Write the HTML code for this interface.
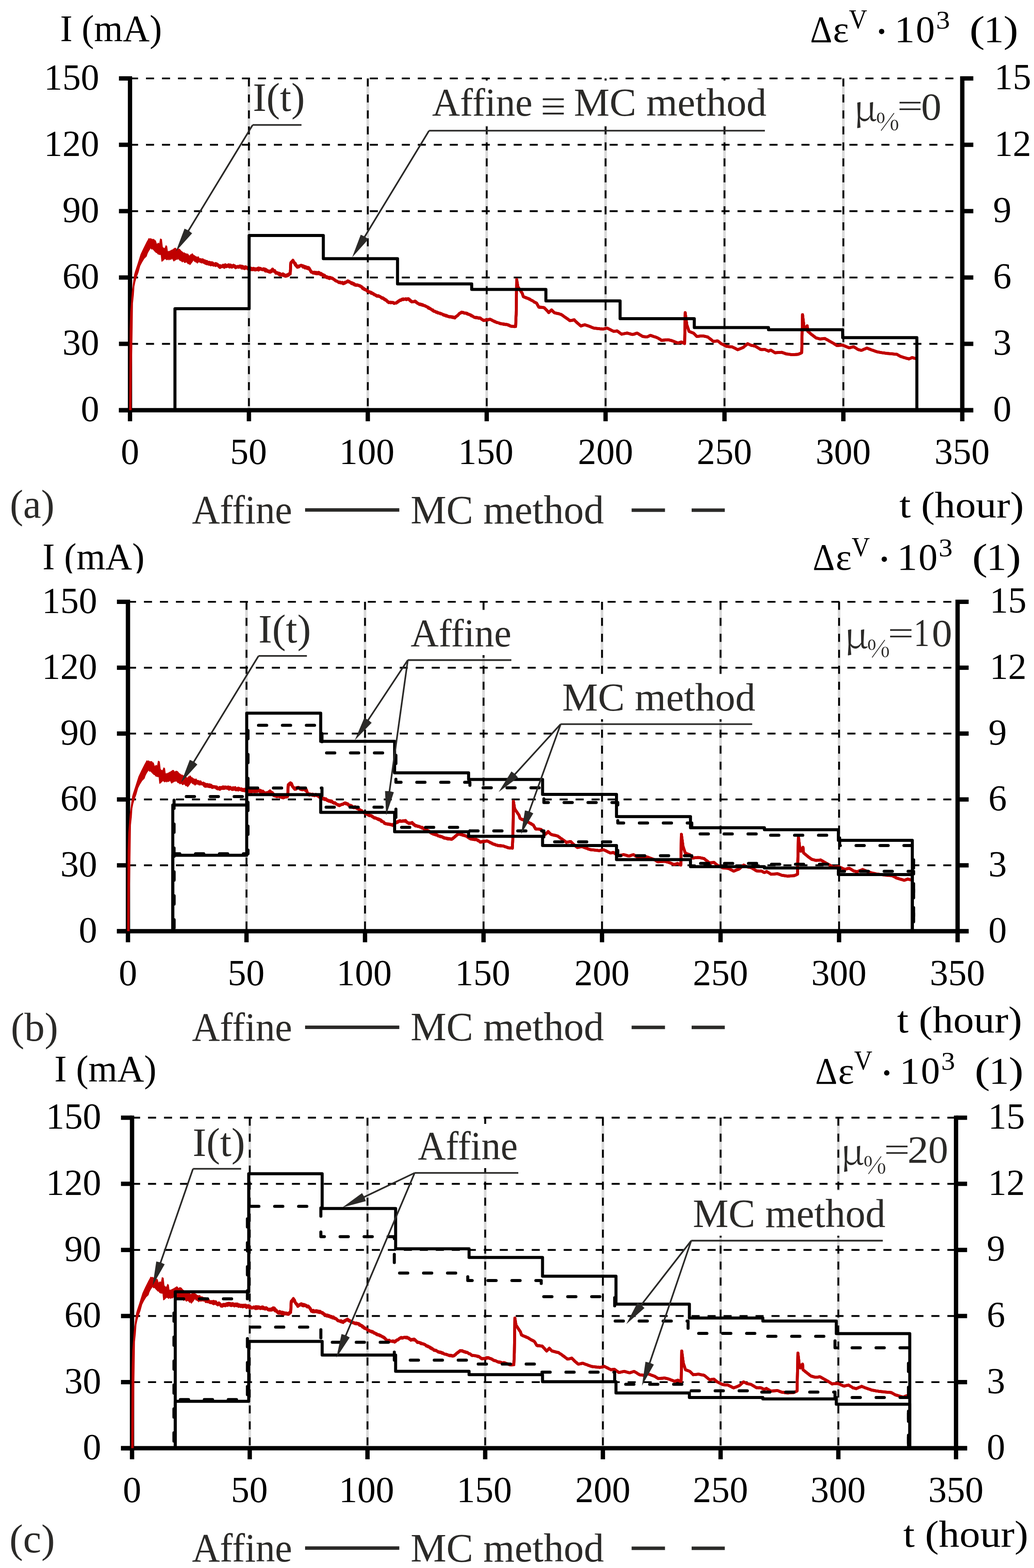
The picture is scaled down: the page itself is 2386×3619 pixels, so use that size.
<!DOCTYPE html>
<html><head><meta charset="utf-8"><style>html,body{margin:0;padding:0;background:#fff}svg{display:block}text{font-kerning:normal}</style></head><body>
<svg width="2386" height="3619" viewBox="0 0 2386 3619">
<rect width="2386" height="3619" fill="#fff"/>
<line x1="574.4" y1="181" x2="574.4" y2="946.8" stroke="#d9d9d9" stroke-width="6" stroke-linecap="butt"/>
<line x1="848.7" y1="181" x2="848.7" y2="946.8" stroke="#d9d9d9" stroke-width="6" stroke-linecap="butt"/>
<line x1="1123.1" y1="181" x2="1123.1" y2="946.8" stroke="#d9d9d9" stroke-width="6" stroke-linecap="butt"/>
<line x1="1397.4" y1="181" x2="1397.4" y2="946.8" stroke="#d9d9d9" stroke-width="6" stroke-linecap="butt"/>
<line x1="1671.8" y1="181" x2="1671.8" y2="946.8" stroke="#d9d9d9" stroke-width="6" stroke-linecap="butt"/>
<line x1="1946.1" y1="181" x2="1946.1" y2="946.8" stroke="#d9d9d9" stroke-width="6" stroke-linecap="butt"/>
<line x1="574.4" y1="181" x2="574.4" y2="946.8" stroke="#000" stroke-width="4.2" stroke-linecap="butt" stroke-dasharray="18.6 18.29"/>
<line x1="848.7" y1="181" x2="848.7" y2="946.8" stroke="#000" stroke-width="4.2" stroke-linecap="butt" stroke-dasharray="18.6 18.29"/>
<line x1="1123.1" y1="181" x2="1123.1" y2="946.8" stroke="#000" stroke-width="4.2" stroke-linecap="butt" stroke-dasharray="18.6 18.29"/>
<line x1="1397.4" y1="181" x2="1397.4" y2="946.8" stroke="#000" stroke-width="4.2" stroke-linecap="butt" stroke-dasharray="18.6 18.29"/>
<line x1="1671.8" y1="181" x2="1671.8" y2="946.8" stroke="#000" stroke-width="4.2" stroke-linecap="butt" stroke-dasharray="18.6 18.29"/>
<line x1="1946.1" y1="181" x2="1946.1" y2="946.8" stroke="#000" stroke-width="4.2" stroke-linecap="butt" stroke-dasharray="18.6 18.29"/>
<line x1="300" y1="793.6" x2="2220.5" y2="793.6" stroke="#000" stroke-width="4.2" stroke-linecap="butt" stroke-dasharray="18.6 18.29"/>
<line x1="300" y1="640.5" x2="2220.5" y2="640.5" stroke="#000" stroke-width="4.2" stroke-linecap="butt" stroke-dasharray="18.6 18.29"/>
<line x1="300" y1="487.3" x2="2220.5" y2="487.3" stroke="#000" stroke-width="4.2" stroke-linecap="butt" stroke-dasharray="18.6 18.29"/>
<line x1="300" y1="334.2" x2="2220.5" y2="334.2" stroke="#000" stroke-width="4.2" stroke-linecap="butt" stroke-dasharray="18.6 18.29"/>
<line x1="300" y1="181" x2="2220.5" y2="181" stroke="#000" stroke-width="4.2" stroke-linecap="butt" stroke-dasharray="18.6 18.29"/>
<line x1="568.8" y1="1389" x2="568.8" y2="2149.3" stroke="#d9d9d9" stroke-width="6" stroke-linecap="butt"/>
<line x1="842.3" y1="1389" x2="842.3" y2="2149.3" stroke="#d9d9d9" stroke-width="6" stroke-linecap="butt"/>
<line x1="1115.8" y1="1389" x2="1115.8" y2="2149.3" stroke="#d9d9d9" stroke-width="6" stroke-linecap="butt"/>
<line x1="1389.2" y1="1389" x2="1389.2" y2="2149.3" stroke="#d9d9d9" stroke-width="6" stroke-linecap="butt"/>
<line x1="1662.7" y1="1389" x2="1662.7" y2="2149.3" stroke="#d9d9d9" stroke-width="6" stroke-linecap="butt"/>
<line x1="1936.2" y1="1389" x2="1936.2" y2="2149.3" stroke="#d9d9d9" stroke-width="6" stroke-linecap="butt"/>
<line x1="568.8" y1="1389" x2="568.8" y2="2149.3" stroke="#000" stroke-width="4.2" stroke-linecap="butt" stroke-dasharray="18.6 18.29"/>
<line x1="842.3" y1="1389" x2="842.3" y2="2149.3" stroke="#000" stroke-width="4.2" stroke-linecap="butt" stroke-dasharray="18.6 18.29"/>
<line x1="1115.8" y1="1389" x2="1115.8" y2="2149.3" stroke="#000" stroke-width="4.2" stroke-linecap="butt" stroke-dasharray="18.6 18.29"/>
<line x1="1389.2" y1="1389" x2="1389.2" y2="2149.3" stroke="#000" stroke-width="4.2" stroke-linecap="butt" stroke-dasharray="18.6 18.29"/>
<line x1="1662.7" y1="1389" x2="1662.7" y2="2149.3" stroke="#000" stroke-width="4.2" stroke-linecap="butt" stroke-dasharray="18.6 18.29"/>
<line x1="1936.2" y1="1389" x2="1936.2" y2="2149.3" stroke="#000" stroke-width="4.2" stroke-linecap="butt" stroke-dasharray="18.6 18.29"/>
<line x1="295.3" y1="1997.2" x2="2209.7" y2="1997.2" stroke="#000" stroke-width="4.2" stroke-linecap="butt" stroke-dasharray="18.6 18.29"/>
<line x1="295.3" y1="1845.2" x2="2209.7" y2="1845.2" stroke="#000" stroke-width="4.2" stroke-linecap="butt" stroke-dasharray="18.6 18.29"/>
<line x1="295.3" y1="1693.1" x2="2209.7" y2="1693.1" stroke="#000" stroke-width="4.2" stroke-linecap="butt" stroke-dasharray="18.6 18.29"/>
<line x1="295.3" y1="1541.1" x2="2209.7" y2="1541.1" stroke="#000" stroke-width="4.2" stroke-linecap="butt" stroke-dasharray="18.6 18.29"/>
<line x1="295.3" y1="1389" x2="2209.7" y2="1389" stroke="#000" stroke-width="4.2" stroke-linecap="butt" stroke-dasharray="18.6 18.29"/>
<line x1="576.3" y1="2579.7" x2="576.3" y2="3342.6" stroke="#d9d9d9" stroke-width="6" stroke-linecap="butt"/>
<line x1="848" y1="2579.7" x2="848" y2="3342.6" stroke="#d9d9d9" stroke-width="6" stroke-linecap="butt"/>
<line x1="1119.6" y1="2579.7" x2="1119.6" y2="3342.6" stroke="#d9d9d9" stroke-width="6" stroke-linecap="butt"/>
<line x1="1391.2" y1="2579.7" x2="1391.2" y2="3342.6" stroke="#d9d9d9" stroke-width="6" stroke-linecap="butt"/>
<line x1="1662.8" y1="2579.7" x2="1662.8" y2="3342.6" stroke="#d9d9d9" stroke-width="6" stroke-linecap="butt"/>
<line x1="1934.5" y1="2579.7" x2="1934.5" y2="3342.6" stroke="#d9d9d9" stroke-width="6" stroke-linecap="butt"/>
<line x1="576.3" y1="2579.7" x2="576.3" y2="3342.6" stroke="#000" stroke-width="4.2" stroke-linecap="butt" stroke-dasharray="18.6 18.29"/>
<line x1="848" y1="2579.7" x2="848" y2="3342.6" stroke="#000" stroke-width="4.2" stroke-linecap="butt" stroke-dasharray="18.6 18.29"/>
<line x1="1119.6" y1="2579.7" x2="1119.6" y2="3342.6" stroke="#000" stroke-width="4.2" stroke-linecap="butt" stroke-dasharray="18.6 18.29"/>
<line x1="1391.2" y1="2579.7" x2="1391.2" y2="3342.6" stroke="#000" stroke-width="4.2" stroke-linecap="butt" stroke-dasharray="18.6 18.29"/>
<line x1="1662.8" y1="2579.7" x2="1662.8" y2="3342.6" stroke="#000" stroke-width="4.2" stroke-linecap="butt" stroke-dasharray="18.6 18.29"/>
<line x1="1934.5" y1="2579.7" x2="1934.5" y2="3342.6" stroke="#000" stroke-width="4.2" stroke-linecap="butt" stroke-dasharray="18.6 18.29"/>
<line x1="304.7" y1="3190" x2="2206.1" y2="3190" stroke="#000" stroke-width="4.2" stroke-linecap="butt" stroke-dasharray="18.6 18.29"/>
<line x1="304.7" y1="3037.4" x2="2206.1" y2="3037.4" stroke="#000" stroke-width="4.2" stroke-linecap="butt" stroke-dasharray="18.6 18.29"/>
<line x1="304.7" y1="2884.9" x2="2206.1" y2="2884.9" stroke="#000" stroke-width="4.2" stroke-linecap="butt" stroke-dasharray="18.6 18.29"/>
<line x1="304.7" y1="2732.3" x2="2206.1" y2="2732.3" stroke="#000" stroke-width="4.2" stroke-linecap="butt" stroke-dasharray="18.6 18.29"/>
<line x1="304.7" y1="2579.7" x2="2206.1" y2="2579.7" stroke="#000" stroke-width="4.2" stroke-linecap="butt" stroke-dasharray="18.6 18.29"/>
<rect x="985" y="186" width="790" height="104" fill="#fff"/>
<rect x="935" y="1408" width="250" height="104" fill="#fff"/>
<rect x="1290" y="1556" width="458" height="104" fill="#fff"/>
<rect x="950" y="2594" width="250" height="102" fill="#fff"/>
<rect x="1590" y="2748" width="458" height="104" fill="#fff"/>
<line x1="300" y1="176" x2="300" y2="951.8" stroke="#000" stroke-width="10" stroke-linecap="butt"/>
<line x1="2220.5" y1="176" x2="2220.5" y2="951.8" stroke="#000" stroke-width="10" stroke-linecap="butt"/>
<line x1="274.5" y1="946.8" x2="2246" y2="946.8" stroke="#000" stroke-width="10" stroke-linecap="butt"/>
<line x1="274.5" y1="946.8" x2="300" y2="946.8" stroke="#000" stroke-width="10" stroke-linecap="butt"/>
<line x1="2220.5" y1="946.8" x2="2246" y2="946.8" stroke="#000" stroke-width="10" stroke-linecap="butt"/>
<line x1="274.5" y1="793.6" x2="300" y2="793.6" stroke="#000" stroke-width="10" stroke-linecap="butt"/>
<line x1="2220.5" y1="793.6" x2="2246" y2="793.6" stroke="#000" stroke-width="10" stroke-linecap="butt"/>
<line x1="274.5" y1="640.5" x2="300" y2="640.5" stroke="#000" stroke-width="10" stroke-linecap="butt"/>
<line x1="2220.5" y1="640.5" x2="2246" y2="640.5" stroke="#000" stroke-width="10" stroke-linecap="butt"/>
<line x1="274.5" y1="487.3" x2="300" y2="487.3" stroke="#000" stroke-width="10" stroke-linecap="butt"/>
<line x1="2220.5" y1="487.3" x2="2246" y2="487.3" stroke="#000" stroke-width="10" stroke-linecap="butt"/>
<line x1="274.5" y1="334.2" x2="300" y2="334.2" stroke="#000" stroke-width="10" stroke-linecap="butt"/>
<line x1="2220.5" y1="334.2" x2="2246" y2="334.2" stroke="#000" stroke-width="10" stroke-linecap="butt"/>
<line x1="274.5" y1="181" x2="300" y2="181" stroke="#000" stroke-width="10" stroke-linecap="butt"/>
<line x1="2220.5" y1="181" x2="2246" y2="181" stroke="#000" stroke-width="10" stroke-linecap="butt"/>
<line x1="300" y1="946.8" x2="300" y2="972.3" stroke="#000" stroke-width="10" stroke-linecap="butt"/>
<line x1="574.4" y1="946.8" x2="574.4" y2="972.3" stroke="#000" stroke-width="10" stroke-linecap="butt"/>
<line x1="848.7" y1="946.8" x2="848.7" y2="972.3" stroke="#000" stroke-width="10" stroke-linecap="butt"/>
<line x1="1123.1" y1="946.8" x2="1123.1" y2="972.3" stroke="#000" stroke-width="10" stroke-linecap="butt"/>
<line x1="1397.4" y1="946.8" x2="1397.4" y2="972.3" stroke="#000" stroke-width="10" stroke-linecap="butt"/>
<line x1="1671.8" y1="946.8" x2="1671.8" y2="972.3" stroke="#000" stroke-width="10" stroke-linecap="butt"/>
<line x1="1946.1" y1="946.8" x2="1946.1" y2="972.3" stroke="#000" stroke-width="10" stroke-linecap="butt"/>
<line x1="2220.5" y1="946.8" x2="2220.5" y2="972.3" stroke="#000" stroke-width="10" stroke-linecap="butt"/>
<line x1="295.3" y1="1384" x2="295.3" y2="2154.3" stroke="#000" stroke-width="10" stroke-linecap="butt"/>
<line x1="2209.7" y1="1384" x2="2209.7" y2="2154.3" stroke="#000" stroke-width="10" stroke-linecap="butt"/>
<line x1="269.8" y1="2149.3" x2="2235.2" y2="2149.3" stroke="#000" stroke-width="10" stroke-linecap="butt"/>
<line x1="269.8" y1="2149.3" x2="295.3" y2="2149.3" stroke="#000" stroke-width="10" stroke-linecap="butt"/>
<line x1="2209.7" y1="2149.3" x2="2235.2" y2="2149.3" stroke="#000" stroke-width="10" stroke-linecap="butt"/>
<line x1="269.8" y1="1997.2" x2="295.3" y2="1997.2" stroke="#000" stroke-width="10" stroke-linecap="butt"/>
<line x1="2209.7" y1="1997.2" x2="2235.2" y2="1997.2" stroke="#000" stroke-width="10" stroke-linecap="butt"/>
<line x1="269.8" y1="1845.2" x2="295.3" y2="1845.2" stroke="#000" stroke-width="10" stroke-linecap="butt"/>
<line x1="2209.7" y1="1845.2" x2="2235.2" y2="1845.2" stroke="#000" stroke-width="10" stroke-linecap="butt"/>
<line x1="269.8" y1="1693.1" x2="295.3" y2="1693.1" stroke="#000" stroke-width="10" stroke-linecap="butt"/>
<line x1="2209.7" y1="1693.1" x2="2235.2" y2="1693.1" stroke="#000" stroke-width="10" stroke-linecap="butt"/>
<line x1="269.8" y1="1541.1" x2="295.3" y2="1541.1" stroke="#000" stroke-width="10" stroke-linecap="butt"/>
<line x1="2209.7" y1="1541.1" x2="2235.2" y2="1541.1" stroke="#000" stroke-width="10" stroke-linecap="butt"/>
<line x1="269.8" y1="1389" x2="295.3" y2="1389" stroke="#000" stroke-width="10" stroke-linecap="butt"/>
<line x1="2209.7" y1="1389" x2="2235.2" y2="1389" stroke="#000" stroke-width="10" stroke-linecap="butt"/>
<line x1="295.3" y1="2149.3" x2="295.3" y2="2174.8" stroke="#000" stroke-width="10" stroke-linecap="butt"/>
<line x1="568.8" y1="2149.3" x2="568.8" y2="2174.8" stroke="#000" stroke-width="10" stroke-linecap="butt"/>
<line x1="842.3" y1="2149.3" x2="842.3" y2="2174.8" stroke="#000" stroke-width="10" stroke-linecap="butt"/>
<line x1="1115.8" y1="2149.3" x2="1115.8" y2="2174.8" stroke="#000" stroke-width="10" stroke-linecap="butt"/>
<line x1="1389.2" y1="2149.3" x2="1389.2" y2="2174.8" stroke="#000" stroke-width="10" stroke-linecap="butt"/>
<line x1="1662.7" y1="2149.3" x2="1662.7" y2="2174.8" stroke="#000" stroke-width="10" stroke-linecap="butt"/>
<line x1="1936.2" y1="2149.3" x2="1936.2" y2="2174.8" stroke="#000" stroke-width="10" stroke-linecap="butt"/>
<line x1="2209.7" y1="2149.3" x2="2209.7" y2="2174.8" stroke="#000" stroke-width="10" stroke-linecap="butt"/>
<line x1="304.7" y1="2574.7" x2="304.7" y2="3347.6" stroke="#000" stroke-width="10" stroke-linecap="butt"/>
<line x1="2206.1" y1="2574.7" x2="2206.1" y2="3347.6" stroke="#000" stroke-width="10" stroke-linecap="butt"/>
<line x1="279.2" y1="3342.6" x2="2231.6" y2="3342.6" stroke="#000" stroke-width="10" stroke-linecap="butt"/>
<line x1="279.2" y1="3342.6" x2="304.7" y2="3342.6" stroke="#000" stroke-width="10" stroke-linecap="butt"/>
<line x1="2206.1" y1="3342.6" x2="2231.6" y2="3342.6" stroke="#000" stroke-width="10" stroke-linecap="butt"/>
<line x1="279.2" y1="3190" x2="304.7" y2="3190" stroke="#000" stroke-width="10" stroke-linecap="butt"/>
<line x1="2206.1" y1="3190" x2="2231.6" y2="3190" stroke="#000" stroke-width="10" stroke-linecap="butt"/>
<line x1="279.2" y1="3037.4" x2="304.7" y2="3037.4" stroke="#000" stroke-width="10" stroke-linecap="butt"/>
<line x1="2206.1" y1="3037.4" x2="2231.6" y2="3037.4" stroke="#000" stroke-width="10" stroke-linecap="butt"/>
<line x1="279.2" y1="2884.9" x2="304.7" y2="2884.9" stroke="#000" stroke-width="10" stroke-linecap="butt"/>
<line x1="2206.1" y1="2884.9" x2="2231.6" y2="2884.9" stroke="#000" stroke-width="10" stroke-linecap="butt"/>
<line x1="279.2" y1="2732.3" x2="304.7" y2="2732.3" stroke="#000" stroke-width="10" stroke-linecap="butt"/>
<line x1="2206.1" y1="2732.3" x2="2231.6" y2="2732.3" stroke="#000" stroke-width="10" stroke-linecap="butt"/>
<line x1="279.2" y1="2579.7" x2="304.7" y2="2579.7" stroke="#000" stroke-width="10" stroke-linecap="butt"/>
<line x1="2206.1" y1="2579.7" x2="2231.6" y2="2579.7" stroke="#000" stroke-width="10" stroke-linecap="butt"/>
<line x1="304.7" y1="3342.6" x2="304.7" y2="3368.1" stroke="#000" stroke-width="10" stroke-linecap="butt"/>
<line x1="576.3" y1="3342.6" x2="576.3" y2="3368.1" stroke="#000" stroke-width="10" stroke-linecap="butt"/>
<line x1="848" y1="3342.6" x2="848" y2="3368.1" stroke="#000" stroke-width="10" stroke-linecap="butt"/>
<line x1="1119.6" y1="3342.6" x2="1119.6" y2="3368.1" stroke="#000" stroke-width="10" stroke-linecap="butt"/>
<line x1="1391.2" y1="3342.6" x2="1391.2" y2="3368.1" stroke="#000" stroke-width="10" stroke-linecap="butt"/>
<line x1="1662.8" y1="3342.6" x2="1662.8" y2="3368.1" stroke="#000" stroke-width="10" stroke-linecap="butt"/>
<line x1="1934.5" y1="3342.6" x2="1934.5" y2="3368.1" stroke="#000" stroke-width="10" stroke-linecap="butt"/>
<line x1="2206.1" y1="3342.6" x2="2206.1" y2="3368.1" stroke="#000" stroke-width="10" stroke-linecap="butt"/>
<g>
<polygon points="298,946.8 298.5,850 299.2,760 300.5,720 302.1,700 304.1,674.5 306.8,654.3 309.5,634.1 311.5,626.8 313.5,620.7 316.9,610.6 319.6,601.9 324.3,587.1 330.3,574.3 338.4,558.1 340.8,554.1 343.1,549.3 345.1,550.4 347.2,549.9 348.9,550.1 350.5,551.8 352.2,551.4 353.9,551.5 355.7,551.7 357.5,554.4 359.3,554.4 362.3,563.2 364,560.5 365.7,560.4 367.4,561.8 369.5,550.4 371.6,550.9 373.6,552.3 375.6,569.8 377.6,571.7 379.7,572.7 382.8,565.4 385.8,568.4 387.3,579.7 389,579.3 390.8,579.6 392.5,578 394.3,577.8 396,576.3 397.8,576 399.6,574.3 401.4,573.5 403.2,571.7 406.2,572.3 408.3,575.9 410.3,573.7 412.4,573.7 414.4,574.2 416.2,575.9 417.9,578.3 419.7,579.8 421.5,580.9 423.6,583 425.6,582.2 427.7,584.7 429.4,584 431.1,586.1 432.8,585.1 434.5,586.1 436.2,589.3 437.9,589.4 439.7,586.4 441.4,586.8 443.2,584.4 445,585.2 447,588.4 449.1,589 451.1,590.8 453.1,592 455,592.3 456.7,592.4 458.3,591.3 460,595 460,604 458.3,605.6 456.7,607.3 455,608.8 453.4,606.1 451.8,606.4 450.2,604 448.6,605.1 447,601.3 445,603.6 443,606.6 441.3,608.5 439.6,610.7 437.9,612.3 436.1,609 434.3,610.2 432.5,608.5 430.7,605.9 429,605.7 427.3,607.1 425.6,607 423.9,604.4 422.2,604.2 420.5,605.9 418.7,603.8 416.8,602.3 415,602.5 413.1,599.7 411.3,598.2 409.3,599.6 407.2,599.2 405.2,600.9 403.1,601.8 401.1,604 399.1,600.8 397,597.1 395,599.7 393,599.5 391.4,599.2 389.7,601.5 388.1,598.7 386.4,600.2 384.8,600.8 382.8,599 380.7,598.1 378.7,599.8 376.6,602.1 374.6,603.6 372.6,604.1 371,588.8 369.1,588.3 367.3,588.5 365.4,587.2 363.7,587.1 362,583.9 360.3,584 357.2,580.9 355.5,579.3 353.9,577.3 351.9,575.3 349.8,576.3 347.8,573.2 345.5,576.7 343.1,580.4 340.8,585.1 338.4,592.1 333,597.2 327.7,605.9 323.6,614 319.6,628.8 315.6,639.5 312.2,651 310.2,661 308.8,681.2 306.8,700 306,758 304.5,850 303.7,946.8 298,946.8" fill="#c00000"/>
<polyline points="458,600 460.4,599.4 462.8,598.9 465.2,602.8 467.6,599.6 470,603 472.3,604.2 474.5,604.1 476.8,603.2 479,607 481.3,608 483.6,605.4 485.9,608.2 488.1,606.3 490.4,606.8 492.7,609.2 495,610 497.5,613 500,609.6 502.5,611.1 505,614.6 507.5,617.5 510,615.7 512.5,615.7 515,614.2 517.5,617.2 520,611.2 522.5,615.6 525,613 527.3,612 529.6,611.5 531.9,611.6 534.1,613 536.4,616.3 538.7,614.7 541.1,613.1 543.4,615.7 545.8,616.3 548.2,615 550.5,616.3 552.9,613.7 555.3,614 557.6,615.1 560,617 562.3,618.4 564.6,617.4 566.9,617.1 569.2,619 571.5,618.6 573.8,618.2 576.1,621.3 578.4,621.1 580.7,619 583,620.8 585.3,621.2 587.5,620.9 589.8,622.8 592.1,622 594.3,619.7 596.6,623.3 598.9,618.8 601.1,620.4 603.4,620.8 605.7,622.8 607.9,620.4 610.2,622.8 612.5,621.2 614.7,625.2 617,626.4 619.3,626.1 621.5,628.3 623.8,627.1 626.3,623.6 628.9,622 631.4,625.2 634,627 636.5,629.1 639,631 641.3,631.3 643.6,633.7 645.9,634.7 648.2,632.9 650.5,634.3 652.8,631.9 655.1,635.5 657.4,635.7 659.7,637.8 662,636 664.6,636.2 667.1,632.5 669.7,632.2 671,608 673.5,604.3 676,601.6 678.6,606.2 681.1,607.1 683.7,613 686.3,617 689.5,613.6 692.7,613.1 695,612.1 697.2,612.6 699.5,616.4 701.7,614.3 704,615.6 706.2,616.9 708.5,619.7 710.7,617 713,619.5 715.6,623.7 718.2,628.4 720.5,628.9 722.7,630.6 725,630.6 727.3,631.1 729.5,628.9 731.8,629.8 734.1,629.9 736.3,632.3 738.6,631 741.1,634.3 743.7,632.7 746.2,634.3 748.8,636 751.3,638.6 753.6,638.3 755.8,640 758.1,641.1 760.4,640.5 762.6,640.3 764.9,642.6 767.2,643.1 769.4,644.5 771.7,645 774.3,648.3 776.9,648.9 779.4,649.9 782,651.4 784.5,652.5 787,653.3 789.5,651.8 792,654 794.6,654.1 797.1,652.4 799.7,651.4 802.3,648.8 804.5,650.9 806.8,650.7 809,651.8 811.2,652 813.5,654.9 815.7,654.1 818,655.3 820.2,657.8 822.8,657.3 825.3,657.5 827.9,659 830.1,659.9 832.4,660.5 834.6,661.7 836.8,663.7 839,665 841.2,667.2 843.5,667.6 845.7,670.5 848,672.8 850.2,673.1 852.5,672.9 854.7,674.3 857,675.7 859.2,676.9 861.5,677.3 863.7,680.6 866,680.7 868.2,683.1 870.5,682.5 872.8,683.5 875,683.4 877.2,684.4 879.5,686 881.8,686.8 884,688.4 886.5,691.1 889.1,691 891.6,692.4 894.2,696.8 896.7,697.3 899.2,697.8 901.8,697.2 904.4,698.7 906.9,697.7 909.5,699.5 912,699.8 914.5,699.6 917.1,697.8 919.6,695.9 922.2,693.2 924.8,692 927.3,690.9 929.5,690 931.7,691.5 933.9,690.8 936.1,691.3 938.3,690.1 940.5,689.8 942.7,690.4 945.1,693.1 947.6,695.4 950,696.1 952.6,696.6 955.1,696 957.7,694.8 960.2,697.7 962.8,699.7 965.3,701.2 967.9,701.3 970.4,702.8 973,703.1 975.5,703.1 978.1,705 980.6,705.2 983.2,707 985.8,708.3 988.3,710.6 990.9,712.5 993.4,712.7 996,714.2 998.5,716.9 1001,718.6 1003.6,719 1006.1,721 1008.7,720.6 1011.2,721.3 1013.8,722.9 1016.1,723.1 1018.3,723.9 1020.6,724.8 1022.9,726.6 1025.1,728 1027.4,728.7 1029.7,728.8 1031.9,730 1034.2,730.5 1036.8,731.6 1039.3,730.5 1041.8,732.1 1044.4,733.1 1046.9,733.3 1049.5,733.1 1052,731.5 1054.6,728.8 1057.1,726.7 1059.7,723.9 1062.2,723 1064.8,720.3 1067,720.6 1069.3,722.2 1071.5,723.1 1073.8,722.6 1076,723.3 1078.2,725 1080.5,725.2 1082.7,725.4 1085.2,726.4 1087.8,727.9 1090.3,729.5 1092.9,731.8 1095.5,733 1098,733.2 1100.5,732.4 1103.1,734.1 1105.7,734.8 1108.2,734.3 1110.7,736.3 1113.3,737.4 1115.8,739.4 1118.3,739.1 1120.9,737.9 1123.4,737.3 1126,738.6 1128.5,737.6 1131.1,736.9 1133.7,738.2 1136.2,740.2 1138.8,740.6 1141.3,742.6 1143.9,743.3 1146.5,744.8 1149,744.7 1151.5,745.7 1154.1,747.1 1156.6,747.1 1159.2,747.3 1161.8,748.1 1164.3,747.9 1166.9,748.5 1169.4,748.9 1172,749.4 1174.5,751.6 1177,751.8 1179.6,753 1182.1,753.1 1184.7,753.4 1187.2,754 1189.8,753.5 1191.1,725.4 1192.3,645 1194.9,661.6 1197.5,665.3 1200,669.9 1202.5,673.2 1205.1,677 1207.6,684.6 1209.8,685.6 1212,686.5 1214.2,686.7 1216.4,688.2 1218.6,688.7 1220.8,689.4 1223,691 1225.5,692.9 1228.1,693.5 1230.7,695.4 1233.2,697.2 1235.8,698.5 1238.3,699.9 1240.8,704.1 1243.4,708.8 1245.9,709.1 1248.5,709.4 1251,709.9 1253.6,709.4 1256.1,710.1 1258.6,713 1261.2,715.5 1263.8,718.5 1266.3,721.6 1269.5,718.7 1272.7,715.2 1275.9,718.4 1279.1,721.6 1281.6,722.3 1284.2,723.2 1286.8,724 1289.3,724.1 1291.9,724.9 1294.4,725.4 1296.9,727.2 1299.5,729 1302,730.9 1304.6,732.5 1307.1,734.3 1309.7,736.3 1312.2,738.2 1314.8,740.2 1317.3,740.1 1319.9,739.4 1322.4,739.1 1325,738.2 1327.6,741.2 1330.1,743 1332.7,745.8 1335.2,748 1337.8,750.5 1340.3,752.2 1342.8,751.9 1345.2,750.6 1347.7,750 1350.2,749.7 1352.7,750.6 1355.3,751.2 1357.8,752.3 1360.4,753.5 1363,754.1 1365.5,755.5 1368,756.6 1370.6,757.3 1372.9,757.8 1375.1,757.5 1377.4,758.2 1379.7,758.4 1381.9,758.2 1384.2,759 1386.5,759.3 1388.7,759 1391,759.4 1393.5,759.2 1396.1,758.3 1398.7,757.8 1401.2,757.3 1403.8,758.9 1406.3,760.1 1408.8,760.9 1411.4,762.4 1414,763.7 1416.5,765 1419.1,764.5 1421.6,763.9 1424.2,763.7 1426.8,765.5 1429.3,767.7 1431.8,769.1 1434.4,771.4 1436.9,770.9 1439.5,770.3 1442,769.5 1444.6,769.2 1447.1,768.8 1449.7,769.5 1452.2,770.1 1454.8,770.5 1457.3,771.8 1459.9,772.1 1462.5,771.5 1465,770.8 1467.5,769.4 1470.1,768.8 1472.7,770.2 1475.2,771.6 1477.8,773.6 1480.3,774.8 1482.9,776.5 1485.5,776.6 1488,777.1 1490.5,777.8 1493.1,777.8 1495.6,776.7 1498.2,775 1500.7,773.9 1502.9,774.5 1505.2,775.8 1507.4,776.3 1509.7,777.2 1511.9,777.6 1514.1,778.4 1516.4,779.6 1518.6,780.3 1521.1,781.9 1523.7,783.4 1526.2,785.4 1528.8,785.5 1531.3,785.1 1533.8,785 1536.4,784.3 1539,784.6 1541.5,784.1 1544,784.5 1546.6,785.6 1549.2,786 1551.7,786.7 1554.3,787.6 1556.8,788.8 1559.4,790 1561.9,790.6 1564.5,791.8 1567,790.7 1569.6,790.1 1572.1,789.2 1574.7,790.3 1577.2,791.5 1579.8,793.1 1581.1,721.6 1584.9,749.7 1587.5,757.1 1590,765 1592.5,765.7 1595.1,766.7 1597.7,767.7 1600.2,768.8 1602.8,771.2 1605.3,774.1 1607.9,776.5 1610.4,776.1 1613,776 1615.5,775.5 1618.1,775.4 1620.6,775.2 1623.2,775.4 1625.7,776.1 1628.3,776.4 1630.8,777.4 1633.4,777.8 1635.9,779.9 1638.5,781.7 1641,783.9 1643.6,786.2 1646.1,788 1648.6,787.4 1651.2,787.6 1653.7,787 1656.3,786.7 1658.9,788.8 1661.4,791.2 1664,793.1 1666.5,794.3 1669.1,795.6 1671.6,797 1674.2,798.5 1676.7,799.4 1679.3,799.6 1681.8,800.1 1684.4,800.3 1686.9,800.5 1689.5,800.7 1692,801.9 1694.6,803.2 1697.1,804.3 1699.7,805.6 1702.2,807.1 1704.8,805.8 1707.3,805.2 1709.9,803.9 1712.4,802.8 1715,802 1717.5,799.5 1720.1,797.8 1722.7,795.6 1725.2,793.1 1727.8,794.5 1730.3,795.5 1732.9,796.9 1735.4,797.3 1737.8,797.8 1740.3,798.4 1742.8,799 1745.3,800.3 1747.9,802 1750.4,803.5 1753,805.5 1755.5,806.7 1758,807 1760.6,806.7 1763.1,806.5 1765.7,806.7 1768.3,808.3 1770.8,809.1 1773.4,810.5 1776,809.2 1778.5,808 1781,809.3 1783.6,811.1 1786.1,812.7 1788.7,814.3 1791.2,814.1 1793.8,813.7 1796.3,813.7 1798.9,813.2 1801.5,813.2 1804,813.1 1806.5,813.8 1809.1,814.9 1811.7,815.7 1814.2,816.9 1816.7,817 1819.3,817.5 1821.8,817.8 1824.4,818.4 1826.9,818.7 1829.5,818.6 1832,818.5 1834.5,818.3 1837.1,818.2 1839.7,818.1 1842.2,817.7 1844.8,816.5 1847.3,815.3 1849.9,814.3 1851.9,726.3 1855,751.8 1857.6,760.8 1860.2,756.6 1862.7,751.8 1863.9,764.6 1866.2,766.3 1868.4,768.5 1870.7,770.4 1872.9,772.2 1875.5,773.8 1878,776.3 1880.5,778.2 1883.1,779.9 1885.6,780.6 1888.2,781.3 1890.7,782 1893.3,782.4 1895.8,781.9 1898.4,781.8 1901,781.5 1903.5,781.2 1906,782.9 1908.6,784.3 1911.2,785.7 1913.7,787 1916.2,788.5 1918.8,790.1 1921.3,791.4 1923.9,792.7 1926.4,794.5 1929,795.9 1931.5,797.8 1934.1,797.3 1936.6,797.1 1939.2,796.9 1941.7,796.5 1944.3,796.5 1946.8,797.8 1949.4,798.7 1951.9,799.8 1954.5,800.8 1957,801.9 1959.6,802.9 1962.1,802.2 1964.7,801.3 1967.2,801.1 1969.8,800.3 1972.3,802 1974.9,803.5 1977.5,805.1 1980,806.7 1982.6,807.5 1985.1,807.8 1987.7,808.7 1990.2,807.8 1992.8,806.4 1995.3,805.3 1997.9,804.3 2000.4,803.4 2003,804.5 2005.5,805.2 2008,806.5 2010.6,807.4 2013.2,808.6 2015.7,809.2 2018.3,810 2020.8,810.9 2023.4,811.8 2025.9,812.4 2028.5,813 2031,813.4 2033.6,813.9 2036.1,814.3 2038.7,814.4 2041.2,814.7 2043.8,815.1 2046.3,815.6 2048.8,815.7 2051.4,816.1 2053.6,816.3 2055.9,816.2 2058.1,816.4 2060.4,816.8 2062.6,817.2 2064.8,817.4 2067.1,817.6 2069.3,817.7 2071.9,819 2074.4,820.5 2076.9,821.9 2079.5,823.3 2081.7,823.9 2083.9,824.4 2086.2,825.4 2088.4,825.7 2090.6,826.8 2092.8,827.4 2095.1,827.5 2097.3,828.4 2099.9,827.3 2102.4,826.5 2105,825.3 2108.2,826.5 2111.4,827.1" fill="none" stroke="#c00000" stroke-width="6.5" stroke-linecap="round" stroke-linejoin="round"/>
<polyline points="458,599.7 460.4,599.1 462.8,599.3 465.2,604.7 467.6,600.5 470,603.5 472.3,601.7 474.5,605.2 476.8,608.9 479,604.7 481.3,610 483.6,608.4 485.9,611.1 488.1,610.3 490.4,607.7 492.7,612.1 495,609.9 497.5,608 500,608.8 502.5,612.8 505,613.5 507.5,613.5 510,613.5 512.5,614.3 515,613.7 517.5,616.4 520,610.9 522.5,614.9 525,615 527.3,611 529.6,616.1 531.9,615.1 534.1,616.5 536.4,613.2 538.7,614 541.1,614.3 543.4,618.1 545.8,616 548.2,614.9 550.5,615.6 552.9,615 555.3,613.9 557.6,614.5 560,618.9 562.3,616.2 564.6,620.2 566.9,616.7 569.2,617.2 571.5,619 573.8,617.6 576.1,619 578.4,622.5 580.7,622.5 583,622.5 585.3,621.5 587.5,623 589.8,623.2 592.1,621.1 594.3,622 596.6,618.4 598.9,622 601.1,620.5 603.4,622.1 605.7,622.3 607.9,621.1 610.2,620.6 612.5,625.8 614.7,622.4 617,624.9 619.3,624.9 621.5,625.4 623.8,628.3 626.3,626.9 628.9,620.8 631.4,625 634,625.5 636.5,629 639,630.5 641.3,629.9 643.6,630.4 645.9,631.1 648.2,635 650.5,633.5 652.8,632.7 655.1,636.4 657.4,637.4 659.7,635.3 662,634.3 664.6,633.3 667.1,631.6 669.7,631.5 671,606.1 673.5,603.6 676,600.5 678.6,605.8 681.1,611.1 683.7,614.3 686.3,616.6 689.5,614.7 692.7,613.2 695,613.3 697.2,613.8 699.5,613.3 701.7,615 704,618.7 706.2,615.8 708.5,618.1 710.7,619.3 713,621 715.6,622.8 718.2,627.4 720.5,627.6 722.7,628.6 725,629 727.3,631.4 729.5,631.3 731.8,631.6 734.1,628.5 736.3,628.8 738.6,631.8 741.1,634.1 743.7,633.9 746.2,635.9 748.8,635.1 751.3,638.2 753.6,641 755.8,641.3 758.1,642.1 760.4,643.2 762.6,641.2 764.9,641.4 767.2,642.3 769.4,644.4 771.7,645.7 774.3,648.2 776.9,649 779.4,650.3 782,652.4 784.5,651.9 787,652.9 789.5,651.7 792,655 794.6,651.8 797.1,652.9 799.7,650.6 802.3,648.1 804.5,648.7 806.8,650.2 809,652.6 811.2,654 813.5,653.1 815.7,654.1 818,656.8 820.2,658.1 822.8,657.8 825.3,657.7 827.9,659.3 830.1,658.9 832.4,661.2 834.6,663.2 836.8,666.2 839,666.6 841.2,668.8 843.5,669 845.7,669.7 848,670.9 850.2,674.1 852.5,674.5 854.7,674.5 857,674.8 859.2,677.3 861.5,678.9 863.7,679.3 866,680 868.2,682.1 870.5,683.9 872.8,682.8 875,683.2 877.2,685 879.5,686.2 881.8,688 884,687.5 886.5,691 889.1,692.6 891.6,693.8 894.2,694.7 896.7,698.6 899.2,697.2 901.8,699 904.4,697.8 906.9,698.2 909.5,700.1 912,699.2 914.5,699.5 917.1,696.8 919.6,694.5 922.2,693.1 924.8,692.2 927.3,691.3 929.5,692 931.7,689.8 933.9,690.4 936.1,689.9 938.3,691.8 940.5,689.5 942.7,689.2 945.1,691.2 947.6,693.9 950,697.1 952.6,696.6 955.1,695.8 957.7,696 960.2,698 962.8,698.6 965.3,700.4 967.9,703 970.4,703.3 973,702.3 975.5,704.6 978.1,704.7 980.6,706 983.2,707.2 985.8,708.1 988.3,709 990.9,710.9 993.4,712.4 996,715.3 998.5,715 1001,718.5 1003.6,718.3 1006.1,719.6 1008.7,721.7 1011.2,722.7 1013.8,722.7 1016.1,722.7 1018.3,724.5 1020.6,725.2 1022.9,727.2 1025.1,726.4 1027.4,727.7 1029.7,729.7 1031.9,728.6 1034.2,730.3 1036.8,731.6 1039.3,731.9 1041.8,730.8 1044.4,731.3 1046.9,731.7 1049.5,734 1052,730.5 1054.6,729.3 1057.1,727.5 1059.7,724.2 1062.2,722 1064.8,721.2 1067,721.2 1069.3,721.1 1071.5,722.6 1073.8,722.5 1076,723 1078.2,723.2 1080.5,725.3 1082.7,726.2 1085.2,727.3 1087.8,729.4 1090.3,729.3 1092.9,731.3 1095.5,732.2 1098,733.5 1100.5,733.9 1103.1,733.3 1105.7,733.4 1108.2,734.2 1110.7,736 1113.3,738.5 1115.8,738.8 1118.3,739.5 1120.9,739 1123.4,738.7 1126,738.2 1128.5,737.5 1131.1,736.6 1133.7,737.9 1136.2,739.2 1138.8,741.2 1141.3,741.3 1143.9,742.8 1146.5,744.7 1149,744.8 1151.5,745.4 1154.1,746.4 1156.6,747.5 1159.2,747.4 1161.8,748.8 1164.3,748.9 1166.9,749.4 1169.4,748.5 1172,749.3 1174.5,750.3 1177,752 1179.6,753.3 1182.1,753 1184.7,752.9 1187.2,753.3 1189.8,753.7 1191.1,725.7 1192.3,645.4 1194.9,662.1 1197.5,665.7 1200,668.8 1202.5,673.6 1205.1,676.7 1207.6,684.7 1209.8,685.3 1212,686.8 1214.2,686.9 1216.4,687.9 1218.6,688.8 1220.8,689.6 1223,691.5 1225.5,692.6 1228.1,693.7 1230.7,695.3 1233.2,697.6 1235.8,698.4 1238.3,699.6 1240.8,704.7 1243.4,709 1245.9,709.7 1248.5,708.8 1251,709.5 1253.6,710.2 1256.1,710.5 1258.6,713.5 1261.2,715.3 1263.8,718.5 1266.3,721.2 1269.5,718 1272.7,715.7 1275.9,718.5 1279.1,722.1 1281.6,722.1 1284.2,723.3 1286.8,723.4 1289.3,723.9 1291.9,725.1 1294.4,725.9 1296.9,726.8 1299.5,729.1 1302,730.9 1304.6,732.2 1307.1,734.2 1309.7,735.9 1312.2,737.9 1314.8,740 1317.3,739.8 1319.9,739.3 1322.4,738.4 1325,737.7 1327.6,740.6 1330.1,743.4 1332.7,745.5 1335.2,747.8 1337.8,749.8 1340.3,752.5 1342.8,751.6 1345.2,750.6 1347.7,750 1350.2,749.6 1352.7,750.7 1355.3,751.7 1357.8,752.2 1360.4,753.2 1363,754.6 1365.5,755.3 1368,756.2 1370.6,757.1 1372.9,757.9 1375.1,757.6 1377.4,758.1 1379.7,758.1 1381.9,758.4 1384.2,759 1386.5,759.3 1388.7,759.1 1391,759.2 1393.5,759 1396.1,758.1 1398.7,757.5 1401.2,757.6 1403.8,758.5 1406.3,760.1 1408.8,761.1 1411.4,762.7 1414,763.7 1416.5,764.8 1419.1,764.2 1421.6,764.2 1424.2,763.8 1426.8,765.9 1429.3,767.3 1431.8,769.6 1434.4,771.3 1436.9,770.9 1439.5,770.1 1442,769.7 1444.6,769.3 1447.1,769.1 1449.7,769.2 1452.2,770.1 1454.8,771 1457.3,771.8 1459.9,771.9 1462.5,771 1465,770.8 1467.5,770 1470.1,768.8 1472.7,770 1475.2,772.2 1477.8,773.3 1480.3,775.2 1482.9,776.6 1485.5,777 1488,776.9 1490.5,777.7 1493.1,777.6 1495.6,776.4 1498.2,775.4 1500.7,774.1 1502.9,774.5 1505.2,775.3 1507.4,776.2 1509.7,777.1 1511.9,777.8 1514.1,778.4 1516.4,779.3 1518.6,780.5 1521.1,782.3 1523.7,783.4 1526.2,785.4 1528.8,785.4 1531.3,784.7 1533.8,785 1536.4,784.3 1539,784.4 1541.5,784.1 1544,784.8 1546.6,785.3 1549.2,786 1551.7,786.8 1554.3,787.7 1556.8,788.8 1559.4,789.7 1561.9,790.7 1564.5,791.5 1567,791 1569.6,790.1 1572.1,789 1574.7,790.7 1577.2,792 1579.8,793.1 1581.1,721.4 1584.9,749.7 1587.5,757.1 1590,764.8 1592.5,765.9 1595.1,766.6 1597.7,767.8 1600.2,768.8 1602.8,771.1 1605.3,774 1607.9,776.2 1610.4,776.4 1613,776.2 1615.5,775.7 1618.1,775.2 1620.6,775.2 1623.2,775.6 1625.7,776.5 1628.3,776.5 1630.8,777.5 1633.4,778.1 1635.9,780 1638.5,782.1 1641,783.7 1643.6,786.3 1646.1,788 1648.6,788 1651.2,787.6 1653.7,786.8 1656.3,786.9 1658.9,789.1 1661.4,790.7 1664,793 1666.5,794.5 1669.1,795.4 1671.6,797.1 1674.2,798 1676.7,799.6 1679.3,799.4 1681.8,799.9 1684.4,800.5 1686.9,800.3 1689.5,800.5 1692,802 1694.6,803.1 1697.1,804.2 1699.7,805.6 1702.2,806.9 1704.8,806.4 1707.3,805.2 1709.9,804.3 1712.4,802.8 1715,802.2 1717.5,799.5 1720.1,797.6 1722.7,795.4 1725.2,793 1727.8,794.6 1730.3,795.7 1732.9,797 1735.4,797.7 1737.8,797.7 1740.3,798.8 1742.8,799.1 1745.3,800.5 1747.9,802.3 1750.4,803.5 1753,805.5 1755.5,806.7 1758,806.6 1760.6,806.9 1763.1,806.7 1765.7,806.5 1768.3,808.1 1770.8,808.9 1773.4,810.7 1776,809.1 1778.5,808.1 1781,809.9 1783.6,811.2 1786.1,812.8 1788.7,814.2 1791.2,813.8 1793.8,813.6 1796.3,813.5 1798.9,813.6 1801.5,813.3 1804,813.1 1806.5,814.3 1809.1,814.8 1811.7,815.8 1814.2,817 1816.7,817 1819.3,817.3 1821.8,817.9 1824.4,818.1 1826.9,818.6 1829.5,818.4 1832,818.4 1834.5,818.3 1837.1,817.8 1839.7,817.9 1842.2,817.7 1844.8,816.3 1847.3,815.7 1849.9,814.1 1851.9,726.1 1855,751.6 1857.6,760.9 1860.2,756.5 1862.7,752 1863.9,764.5 1866.2,766.4 1868.4,768.1 1870.7,770.4 1872.9,772.2 1875.5,774 1878,776.1 1880.5,777.9 1883.1,780.2 1885.6,780.7 1888.2,781 1890.7,782 1893.3,782.1 1895.8,782.1 1898.4,781.7 1901,781.3 1903.5,780.9 1906,782.8 1908.6,783.8 1911.2,785.6 1913.7,787.3 1916.2,788.2 1918.8,789.7 1921.3,791.3 1923.9,792.7 1926.4,794.5 1929,796.3 1931.5,797.6 1934.1,797.4 1936.6,797.2 1939.2,796.7 1941.7,797 1944.3,796.7 1946.8,797.7 1949.4,798.3 1951.9,799.9 1954.5,800.9 1957,801.8 1959.6,803 1962.1,802.2 1964.7,801.4 1967.2,800.7 1969.8,800.1 1972.3,801.6 1974.9,803.4 1977.5,805.2 1980,806.8 1982.6,807.6 1985.1,808.2 1987.7,808.6 1990.2,807.7 1992.8,806.5 1995.3,805.7 1997.9,804.5 2000.4,803.3 2003,804.5 2005.5,805.7 2008,806.2 2010.6,807.6 2013.2,808 2015.7,809 2018.3,809.9 2020.8,811.1 2023.4,812.1 2025.9,812.4 2028.5,812.7 2031,813.5 2033.6,813.7 2036.1,814.1 2038.7,814.8 2041.2,815 2043.8,815.3 2046.3,815.6 2048.8,816.1 2051.4,816.1 2053.6,816.5 2055.9,816.6 2058.1,816.9 2060.4,816.9 2062.6,817.2 2064.8,817.3 2067.1,817.4 2069.3,817.5 2071.9,819.2 2074.4,820.3 2076.9,822.1 2079.5,823.1 2081.7,823.7 2083.9,824.3 2086.2,825.5 2088.4,825.8 2090.6,826.3 2092.8,826.9 2095.1,827.5 2097.3,828.5 2099.9,827.4 2102.4,826.4 2105,825.4 2108.2,826 2111.4,827.2" fill="none" stroke="#c00000" stroke-width="6.5" stroke-linecap="round" stroke-linejoin="round"/>
<polyline points="458,599.1 460.4,602.7 462.8,603.3 465.2,604.3 467.6,599.6 470,605.4 472.3,606.7 474.5,607.8 476.8,603.5 479,605.1 481.3,605.5 483.6,605.4 485.9,610.9 488.1,611 490.4,610.2 492.7,611.7 495,610.8 497.5,609.6 500,609.4 502.5,610.4 505,615.4 507.5,612.9 510,614.6 512.5,614.8 515,611.9 517.5,612.9 520,612.6 522.5,614.7 525,612.2 527.3,612.2 529.6,616.3 531.9,613.9 534.1,616.2 536.4,615.1 538.7,612 541.1,614.5 543.4,614.8 545.8,617 548.2,614.8 550.5,617.1 552.9,616.4 555.3,614.9 557.6,618.8 560,614.7 562.3,619.2 564.6,615.9 566.9,615.4 569.2,616.9 571.5,620.3 573.8,621.9 576.1,616.9 578.4,620 580.7,620.4 583,622.4 585.3,619.1 587.5,620.8 589.8,620 592.1,622.6 594.3,619.5 596.6,623.2 598.9,619.7 601.1,619.3 603.4,621.8 605.7,621.5 607.9,620.2 610.2,623.6 612.5,621.4 614.7,625.8 617,626 619.3,627.2 621.5,627 623.8,626.4 626.3,624.1 628.9,621.5 631.4,626.2 634,624.4 636.5,630.7 639,628.7 641.3,630.1 643.6,630.8 645.9,634.4 648.2,633 650.5,632.9 652.8,635.8 655.1,633.2 657.4,634.8 659.7,635.6 662,637.2 664.6,635.9 667.1,634.1 669.7,631.5 671,607.2 673.5,603.2 676,603.2 678.6,606.2 681.1,610.4 683.7,611.7 686.3,616.7 689.5,616.3 692.7,613.5 695,612.2 697.2,614.4 699.5,616.9 701.7,614.8 704,615.3 706.2,616.5 708.5,618.9 710.7,620.3 713,618 715.6,622.5 718.2,627.3 720.5,628 722.7,629.1 725,627.9 727.3,628.8 729.5,628.6 731.8,632.1 734.1,631.3 736.3,629.1 738.6,632.9 741.1,630.9 743.7,633.6 746.2,637.5 748.8,638.2 751.3,639.5 753.6,639.1 755.8,638.9 758.1,641.3 760.4,639.9 762.6,641 764.9,642.4 767.2,641.8 769.4,643.9 771.7,646.1 774.3,647.3 776.9,648.2 779.4,650.3 782,651.3 784.5,650.8 787,653.1 789.5,653 792,654.8 794.6,654.1 797.1,651.2 799.7,650.4 802.3,649.7 804.5,649.7 806.8,650.1 809,652.9 811.2,654.6 813.5,655.3 815.7,656.2 818,657.8 820.2,658.4 822.8,658.7 825.3,658.5 827.9,658.4 830.1,660.8 832.4,660.6 834.6,663.1 836.8,665.6 839,666.8 841.2,668 843.5,668.3 845.7,670.3 848,671.5 850.2,673.1 852.5,673.6 854.7,675.6 857,677.4 859.2,676.4 861.5,678.9 863.7,680.4 866,680.4 868.2,681.6 870.5,684 872.8,682.3 875,684.7 877.2,684.5 879.5,687.3 881.8,688.7 884,688.5 886.5,689.1 889.1,692.2 891.6,693.9 894.2,696.1 896.7,697.3 899.2,698.1 901.8,699 904.4,698.6 906.9,698.7 909.5,700.6 912,699 914.5,698.8 917.1,696.5 919.6,696.1 922.2,692.9 924.8,693.7 927.3,690.5 929.5,689.7 931.7,690.2 933.9,690.4 936.1,689.3 938.3,690.3 940.5,690.3 942.7,690.9 945.1,691.9 947.6,693.6 950,695.4 952.6,696.3 955.1,696.3 957.7,694.9 960.2,696.2 962.8,699.8 965.3,700.9 967.9,701.3 970.4,701.8 973,704.2 975.5,705 978.1,705.3 980.6,706.2 983.2,707.7 985.8,708.2 988.3,711.2 990.9,711.1 993.4,713 996,715 998.5,716.6 1001,717.4 1003.6,718.5 1006.1,720.1 1008.7,720.1 1011.2,722.7 1013.8,722.6 1016.1,724.5 1018.3,724.1 1020.6,725.2 1022.9,725.7 1025.1,727 1027.4,727.3 1029.7,727.7 1031.9,730.1 1034.2,730 1036.8,730.4 1039.3,730.9 1041.8,731.8 1044.4,732.1 1046.9,733 1049.5,733.4 1052,730.7 1054.6,729.7 1057.1,727.4 1059.7,723.7 1062.2,723.1 1064.8,721.1 1067,721.5 1069.3,720.9 1071.5,722.9 1073.8,723.1 1076,722.5 1078.2,723.2 1080.5,725.6 1082.7,725.7 1085.2,726.5 1087.8,727.8 1090.3,729.5 1092.9,731.3 1095.5,732.7 1098,732.3 1100.5,732.4 1103.1,734.2 1105.7,734.4 1108.2,733.7 1110.7,736.7 1113.3,737.9 1115.8,739.9 1118.3,739.3 1120.9,739.3 1123.4,738.7 1126,738.3 1128.5,736.8 1131.1,737.2 1133.7,738.2 1136.2,739.9 1138.8,740.6 1141.3,742.7 1143.9,743.4 1146.5,743.9 1149,744.8 1151.5,745.6 1154.1,747.1 1156.6,746.7 1159.2,747.6 1161.8,747.4 1164.3,748.3 1166.9,748.6 1169.4,749 1172,750.5 1174.5,750.2 1177,752.5 1179.6,753 1182.1,753.2 1184.7,753.5 1187.2,753.9 1189.8,753.3 1191.1,725.3 1192.3,645.7 1194.9,661 1197.5,665.6 1200,669.5 1202.5,672.5 1205.1,677.2 1207.6,684.9 1209.8,686.1 1212,686.2 1214.2,688 1216.4,688.3 1218.6,689.2 1220.8,690.6 1223,690.4 1225.5,692.8 1228.1,694.1 1230.7,695.2 1233.2,697.4 1235.8,698.2 1238.3,699.9 1240.8,704.4 1243.4,709.1 1245.9,708.7 1248.5,709.2 1251,709.5 1253.6,709.9 1256.1,710.5 1258.6,712.7 1261.2,716.2 1263.8,718.6 1266.3,721.6 1269.5,718.1 1272.7,715.2 1275.9,718.9 1279.1,721.8 1281.6,722.6 1284.2,722.7 1286.8,723.3 1289.3,723.9 1291.9,724.9 1294.4,725.5 1296.9,727.5 1299.5,728.5 1302,731 1304.6,732.9 1307.1,734.3 1309.7,735.8 1312.2,738 1314.8,739.7 1317.3,739.4 1319.9,739.6 1322.4,738.8 1325,738.4 1327.6,741 1330.1,743.7 1332.7,745.9 1335.2,748 1337.8,750.2 1340.3,752.4 1342.8,751.7 1345.2,751.1 1347.7,750.1 1350.2,749.8 1352.7,750.6 1355.3,751.8 1357.8,752.2 1360.4,753.2 1363,754.1 1365.5,755.6 1368,756.7 1370.6,757.4 1372.9,757.4 1375.1,758 1377.4,758.2 1379.7,758.3 1381.9,758.3 1384.2,758.6 1386.5,758.9 1388.7,759 1391,759.3 1393.5,759 1396.1,758.7 1398.7,757.5 1401.2,757.3 1403.8,758.3 1406.3,759.6 1408.8,761.4 1411.4,762.5 1414,764 1416.5,765 1419.1,764.2 1421.6,764.1 1424.2,763.8 1426.8,765.9 1429.3,767.9 1431.8,769.5 1434.4,771.3 1436.9,770.6 1439.5,770.5 1442,769.6 1444.6,769.1 1447.1,768.5 1449.7,769.1 1452.2,770.2 1454.8,770.5 1457.3,771.8 1459.9,771.8 1462.5,771.5 1465,770.2 1467.5,769.3 1470.1,769 1472.7,770.2 1475.2,772 1477.8,773.2 1480.3,774.7 1482.9,776.7 1485.5,777 1488,777.4 1490.5,777.6 1493.1,777.5 1495.6,776.6 1498.2,775.3 1500.7,773.9 1502.9,775 1505.2,775.3 1507.4,776.6 1509.7,777.2 1511.9,777.6 1514.1,778.4 1516.4,779.6 1518.6,780.5 1521.1,781.7 1523.7,783.6 1526.2,785.6 1528.8,785 1531.3,785.2 1533.8,784.7 1536.4,784.2 1539,784.2 1541.5,784.2 1544,784.7 1546.6,785.5 1549.2,785.8 1551.7,786.9 1554.3,787.6 1556.8,788.8 1559.4,789.8 1561.9,790.7 1564.5,791.7 1567,791.1 1569.6,790.4 1572.1,789.4 1574.7,790.5 1577.2,791.7 1579.8,792.8 1581.1,721.9 1584.9,749.8 1587.5,757.6 1590,764.9 1592.5,766 1595.1,767.2 1597.7,768.1 1600.2,768.9 1602.8,771.2 1605.3,773.9 1607.9,776.8 1610.4,776.2 1613,776.1 1615.5,775.8 1618.1,775.7 1620.6,775.4 1623.2,775.6 1625.7,775.9 1628.3,776.6 1630.8,777.2 1633.4,777.9 1635.9,780 1638.5,782.1 1641,783.6 1643.6,786.2 1646.1,788.2 1648.6,787.9 1651.2,787.4 1653.7,786.9 1656.3,786.9 1658.9,789 1661.4,791.1 1664,793.4 1666.5,794.3 1669.1,795.4 1671.6,796.9 1674.2,798.3 1676.7,799.2 1679.3,799.8 1681.8,800.2 1684.4,800 1686.9,800.5 1689.5,800.8 1692,802 1694.6,803.1 1697.1,804.4 1699.7,806 1702.2,807.3 1704.8,806.1 1707.3,804.8 1709.9,804.2 1712.4,803.2 1715,801.8 1717.5,799.8 1720.1,797.8 1722.7,795.6 1725.2,793.1 1727.8,794.4 1730.3,795.7 1732.9,796.7 1735.4,797.2 1737.8,797.7 1740.3,798.6 1742.8,798.9 1745.3,800.6 1747.9,802 1750.4,803.6 1753,804.9 1755.5,806.4 1758,807 1760.6,806.6 1763.1,806.5 1765.7,806.8 1768.3,808.1 1770.8,809 1773.4,810.6 1776,809.2 1778.5,808 1781,809.3 1783.6,810.9 1786.1,813 1788.7,814.5 1791.2,814.1 1793.8,813.9 1796.3,813.6 1798.9,813.7 1801.5,813.3 1804,813.4 1806.5,814.2 1809.1,815.2 1811.7,816.2 1814.2,816.7 1816.7,817 1819.3,817.4 1821.8,817.8 1824.4,818.1 1826.9,818.4 1829.5,818.6 1832,818.6 1834.5,818.2 1837.1,818.3 1839.7,818.1 1842.2,817.4 1844.8,816.6 1847.3,815.4 1849.9,814.1 1851.9,726.6 1855,751.7 1857.6,760.8 1860.2,756.4 1862.7,752.1 1863.9,764.7 1866.2,766.4 1868.4,768.4 1870.7,770.1 1872.9,772.5 1875.5,774.4 1878,775.9 1880.5,777.7 1883.1,779.8 1885.6,780.4 1888.2,781.4 1890.7,782 1893.3,782.6 1895.8,781.8 1898.4,782 1901,781.6 1903.5,781.3 1906,782.9 1908.6,783.8 1911.2,785.3 1913.7,787.2 1916.2,788.7 1918.8,790 1921.3,791.2 1923.9,792.8 1926.4,794.6 1929,795.9 1931.5,797.7 1934.1,797.4 1936.6,797.1 1939.2,797 1941.7,796.6 1944.3,796.3 1946.8,797.4 1949.4,798.7 1951.9,799.4 1954.5,800.9 1957,801.7 1959.6,802.6 1962.1,802.5 1964.7,801.4 1967.2,801.2 1969.8,800.5 1972.3,802.1 1974.9,803.3 1977.5,805.1 1980,806.5 1982.6,807.6 1985.1,808.2 1987.7,808.8 1990.2,807.6 1992.8,806.5 1995.3,805.7 1997.9,804.4 2000.4,803.5 2003,804.2 2005.5,805.2 2008,806.1 2010.6,807.5 2013.2,808.3 2015.7,809 2018.3,810.3 2020.8,810.8 2023.4,811.7 2025.9,812.1 2028.5,812.7 2031,813.5 2033.6,813.7 2036.1,814.1 2038.7,814.6 2041.2,814.8 2043.8,815.4 2046.3,815.3 2048.8,816.1 2051.4,815.8 2053.6,816.5 2055.9,816.6 2058.1,816.5 2060.4,816.9 2062.6,817 2064.8,817.2 2067.1,817.3 2069.3,817.6 2071.9,819.4 2074.4,820.8 2076.9,822.1 2079.5,823.1 2081.7,823.8 2083.9,824.8 2086.2,825 2088.4,826 2090.6,826.4 2092.8,827.4 2095.1,827.5 2097.3,828.6 2099.9,827.3 2102.4,826.1 2105,825 2108.2,826.4 2111.4,827.1" fill="none" stroke="#c00000" stroke-width="6.5" stroke-linecap="round" stroke-linejoin="round"/>
</g>
<polyline points="403.7,946.8 403.7,712.5 574.9,712.5 574.9,543.5 746.1,543.5 746.1,597.1 917.3,597.1 917.3,655.3 1088.5,655.3 1088.5,668 1259.7,668 1259.7,694.6 1430.9,694.6 1430.9,735.4 1602.1,735.4 1602.1,755.9 1773.3,755.9 1773.3,761 1944.5,761 1944.5,779.3 2115.7,779.3 2115.7,946.8" fill="none" stroke="#000" stroke-width="7" stroke-linecap="butt" stroke-linejoin="round"/>
<g>
<polygon points="293.3,2149.3 293.8,2053.2 294.5,1963.8 295.8,1924.1 297.4,1904.3 299.4,1879 302.1,1858.9 304.8,1838.8 306.8,1831.6 308.8,1825.5 312.1,1815.5 314.8,1806.9 319.5,1792.2 325.5,1779.5 333.6,1763.4 335.9,1759.4 338.3,1754.7 340.3,1755.7 342.4,1755.2 344,1755.5 345.7,1757.2 347.4,1756.7 349,1756.8 350.8,1757 352.6,1759.7 354.4,1759.7 357.4,1768.5 359.1,1765.8 360.8,1765.6 362.5,1767 364.6,1755.7 366.6,1756.2 368.7,1757.7 370.7,1775 372.7,1776.9 374.7,1777.8 377.8,1770.7 380.8,1773.6 382.3,1784.9 384.1,1784.4 385.8,1784.7 387.5,1783.2 389.3,1782.9 391,1781.4 392.8,1781.1 394.6,1779.5 396.4,1778.7 398.2,1776.9 401.2,1777.5 403.3,1781 405.3,1778.9 407.3,1778.9 409.3,1779.4 411.1,1781 412.9,1783.5 414.6,1785 416.4,1786.1 418.5,1788.1 420.5,1787.4 422.6,1789.8 424.3,1789.1 426,1791.2 427.7,1790.2 429.4,1791.2 431.1,1794.4 432.8,1794.4 434.5,1791.5 436.3,1791.9 438.1,1789.5 439.8,1790.3 441.9,1793.5 443.9,1794 445.9,1795.8 447.9,1797.1 449.8,1797.4 451.5,1797.4 453.1,1796.4 454.8,1800 454.8,1809 453.1,1810.6 451.5,1812.3 449.8,1813.7 448.2,1811 446.6,1811.3 445,1808.9 443.4,1810.1 441.8,1806.3 439.8,1808.5 437.8,1811.5 436.2,1813.4 434.5,1815.6 432.8,1817.2 431,1813.9 429.2,1815.1 427.4,1813.5 425.6,1810.8 423.9,1810.7 422.2,1812 420.5,1812 418.8,1809.4 417.1,1809.1 415.4,1810.8 413.6,1808.7 411.7,1807.2 409.9,1807.4 408.1,1804.7 406.2,1803.2 404.2,1804.6 402.2,1804.2 400.2,1805.9 398.1,1806.7 396.1,1809 394,1805.8 392,1802.1 390,1804.7 388,1804.5 386.4,1804.2 384.7,1806.4 383.1,1803.7 381.5,1805.2 379.8,1805.7 377.8,1804 375.8,1803.1 373.8,1804.7 371.7,1807.1 369.7,1808.6 367.7,1809.1 366.1,1793.9 364.2,1793.3 362.4,1793.6 360.5,1792.3 358.8,1792.2 357.1,1789 355.4,1789.1 352.3,1786 350.7,1784.4 349,1782.4 347,1780.4 345,1781.4 342.9,1778.4 340.6,1781.8 338.3,1785.6 335.9,1790.2 333.6,1797.1 328.2,1802.2 322.9,1810.8 318.8,1818.9 314.8,1833.6 310.9,1844.2 307.5,1855.6 305.5,1865.6 304.1,1885.6 302.1,1904.3 301.3,1961.9 299.8,2053.2 299,2149.3 293.3,2149.3" fill="#c00000"/>
<polyline points="452.8,1805 455.2,1803.5 457.6,1805.8 460,1809.5 462.4,1805.5 464.8,1808 467,1809.4 469.3,1807.6 471.5,1808.9 473.8,1813.7 476,1812.9 478.3,1814.6 480.6,1811.7 482.9,1811.3 485.1,1811.7 487.4,1815.3 489.7,1814.9 492.2,1815.8 494.7,1815.4 497.2,1815.9 499.6,1819.4 502.1,1820.9 504.6,1820.6 507.1,1822 509.6,1820.2 512.1,1817.4 514.6,1816.2 517.1,1819.7 519.6,1817.9 521.9,1817.6 524.1,1819.8 526.4,1816.1 528.7,1820.8 531,1818.3 533.2,1819.6 535.6,1821.8 538,1822.2 540.3,1820.3 542.7,1817.8 545,1823.2 547.4,1821 549.8,1823.5 552.1,1820.3 554.5,1821.9 556.8,1820.5 559.1,1824.5 561.4,1822.3 563.6,1821.5 565.9,1823 568.2,1824.7 570.5,1821.8 572.8,1825 575.1,1825 577.4,1825.6 579.7,1825.7 581.9,1823.6 584.2,1826.8 586.4,1827.3 588.7,1827.6 591,1824.7 593.2,1826.8 595.5,1825 597.7,1825.6 600,1827.6 602.3,1824.8 604.5,1829.7 606.8,1830.8 609,1829.1 611.3,1829.9 613.6,1830.7 615.8,1831.4 618.1,1831.9 620.6,1827 623.2,1826.8 625.7,1831.4 628.2,1829.9 630.7,1832 633.2,1835.8 635.5,1834.3 637.8,1835.5 640.1,1838.8 642.4,1835.5 644.7,1836.3 647,1839.7 649.3,1837.8 651.6,1837.5 653.9,1840.7 656.2,1840.7 658.7,1839.8 661.3,1838.3 663.8,1837 665.1,1812.9 667.6,1810.7 670.1,1806.6 672.7,1808.6 675.2,1815.9 677.8,1819 680.4,1821.9 683.6,1817.9 686.8,1818 689,1817 691.2,1819.4 693.5,1820.1 695.7,1819.9 698,1819.9 700.2,1821.8 702.5,1821.4 704.7,1824 707,1824.4 709.6,1830.3 712.2,1833.2 714.4,1832 716.7,1834.1 719,1835.1 721.2,1833 723.5,1836 725.7,1836.7 728,1834.7 730.2,1835.2 732.5,1835.8 735,1838.6 737.6,1838.9 740.1,1839.9 742.6,1843.5 745.2,1843.3 747.4,1845.1 749.7,1844.1 751.9,1844.4 754.2,1845.5 756.5,1846.6 758.7,1849.4 761,1849.4 763.2,1850.5 765.5,1849.7 768.1,1852.4 770.6,1854.1 773.2,1852.8 775.8,1856 778.3,1856.7 780.8,1858.9 783.2,1859.5 785.7,1858.6 788.3,1856.4 790.9,1855.8 793.4,1855.2 796,1853.4 798.2,1854.1 800.5,1855.8 802.7,1855.3 804.9,1857.7 807.2,1859 809.4,1858.6 811.6,1860.1 813.8,1862.4 816.4,1864.3 819,1864.1 821.5,1863.6 823.7,1866.4 826,1866.8 828.2,1868.8 830.4,1870.5 832.6,1871.9 834.8,1870.7 837,1874 839.3,1875 841.5,1875.4 843.8,1877.8 846,1877.7 848.3,1879.6 850.5,1881.9 852.8,1882.1 855,1882.1 857.3,1884 859.5,1885.1 861.7,1885.9 864,1888.3 866.2,1887.4 868.5,1888.4 870.7,1890.3 873,1889.8 875.2,1892.1 877.4,1892.8 880,1895.8 882.5,1896.3 885,1897.4 887.6,1899.7 890.1,1901.6 892.6,1902.1 895.2,1901.4 897.7,1901.8 900.3,1902.2 902.8,1903.1 905.4,1904.1 907.9,1902.3 910.4,1900.6 913,1899 915.5,1897.1 918.1,1896.8 920.6,1895.2 922.8,1896.1 925,1895.4 927.2,1895.2 929.4,1895.3 931.6,1894.1 933.8,1895.4 936,1894.7 938.4,1896.5 940.8,1898.6 943.2,1900.4 945.8,1900.3 948.4,1899.5 950.9,1899.1 953.4,1900.8 956,1902.7 958.5,1905.5 961,1905.5 963.6,1907 966.1,1907.4 968.7,1908.7 971.2,1909.2 973.8,1909.3 976.3,1911.4 978.9,1913.9 981.4,1913.7 984,1915.7 986.5,1916.9 989,1918.4 991.6,1919.5 994.1,1922.7 996.7,1923.1 999.2,1923.6 1001.7,1925.7 1004.3,1925.3 1006.8,1927 1009.1,1926.9 1011.4,1929.5 1013.6,1929.4 1015.9,1929.4 1018.1,1931 1020.4,1931.9 1022.6,1933.4 1024.9,1932.9 1027.2,1934.6 1029.7,1934.4 1032.3,1936.4 1034.8,1936.4 1037.3,1935.5 1039.9,1936.4 1042.4,1937.1 1044.9,1934.7 1047.5,1933.3 1050,1930.8 1052.6,1928.9 1055.1,1927.3 1057.7,1924.4 1059.9,1925.7 1062.1,1925.7 1064.4,1926.8 1066.6,1927.4 1068.8,1928.1 1071.1,1928.2 1073.3,1929.4 1075.5,1929.5 1078.1,1931.5 1080.6,1933.5 1083.1,1933.5 1085.7,1935.8 1088.2,1937 1090.8,1935.7 1093.3,1937.6 1095.8,1937.7 1098.4,1937.9 1100.9,1938.3 1103.5,1940.8 1106,1941.8 1108.5,1943.4 1111.1,1942.8 1113.6,1943.1 1116.1,1942.8 1118.7,1941.9 1121.2,1941.1 1123.8,1940.9 1126.3,1942.1 1128.9,1943.4 1131.4,1945.1 1134,1945.6 1136.5,1947.3 1139.1,1948 1141.6,1949.2 1144.1,1949.9 1146.7,1951 1149.2,1951 1151.8,1952.1 1154.3,1952.5 1156.9,1952.2 1159.4,1952.4 1161.9,1952.8 1164.5,1953.4 1167,1954.6 1169.6,1955.3 1172.1,1956.9 1174.6,1957.1 1177.2,1957.3 1179.7,1956.7 1182.3,1957.4 1183.6,1929.5 1184.8,1849.7 1187.4,1866.1 1189.9,1870.6 1192.4,1873.5 1195,1878.1 1197.5,1881.4 1200,1889 1202.2,1890.4 1204.4,1891.4 1206.6,1891.3 1208.8,1892.5 1211,1894.1 1213.2,1893.8 1215.4,1895.3 1217.9,1896.2 1220.5,1898.4 1223,1899.8 1225.5,1901.8 1228.1,1903.1 1230.6,1904.2 1233.2,1908.6 1235.7,1913 1238.2,1913.9 1240.8,1913.5 1243.3,1913.8 1245.8,1914.3 1248.4,1914.3 1250.9,1917 1253.4,1919.8 1256,1923 1258.5,1925.7 1261.7,1922.4 1264.9,1919.4 1268.1,1923.1 1271.3,1925.7 1273.8,1926.5 1276.4,1927 1278.9,1927.2 1281.5,1928.1 1284,1928.8 1286.5,1929.5 1289.1,1931.3 1291.6,1933.1 1294.1,1935.2 1296.7,1937 1299.2,1938.3 1301.8,1940.3 1304.3,1942.2 1306.9,1944.2 1309.4,1943.8 1312,1943.7 1314.5,1942.5 1317,1942.2 1319.6,1944.7 1322.2,1947.5 1324.7,1949.7 1327.2,1951.6 1329.8,1953.8 1332.3,1956.1 1334.8,1955.9 1337.2,1955.1 1339.7,1954.2 1342.2,1953.6 1344.7,1954.2 1347.2,1955.8 1349.8,1956.6 1352.3,1957.4 1354.9,1958.6 1357.4,1959.7 1360,1960.5 1362.5,1961.2 1364.8,1961.3 1367,1961.4 1369.3,1961.7 1371.5,1962.1 1373.8,1962.3 1376.1,1962.3 1378.3,1962.5 1380.6,1963.1 1382.8,1963.2 1385.4,1962.8 1387.9,1962.1 1390.5,1962 1393,1961.2 1395.5,1962.5 1398.1,1963.4 1400.6,1964.9 1403.2,1966.5 1405.7,1967.4 1408.3,1968.8 1410.8,1968.5 1413.4,1967.6 1415.9,1967.5 1418.5,1969.3 1421,1971.6 1423.6,1973.3 1426.1,1975.2 1428.6,1974.8 1431.2,1973.9 1433.7,1973.6 1436.2,1973.1 1438.8,1972.6 1441.3,1973.1 1443.9,1974 1446.4,1974.6 1449,1975.5 1451.5,1975.9 1454.1,1975.1 1456.6,1974.2 1459.1,1973.1 1461.7,1972.6 1464.2,1973.9 1466.8,1975.8 1469.3,1976.9 1471.9,1978.4 1474.4,1980.2 1477,1980.3 1479.5,1980.9 1482.1,1981.4 1484.6,1981.5 1487.1,1980.3 1489.7,1979.1 1492.2,1977.6 1494.4,1978.1 1496.6,1978.9 1498.9,1980.2 1501.1,1980.7 1503.3,1981.8 1505.6,1982.3 1507.8,1983 1510,1984 1512.6,1985.5 1515.1,1987.1 1517.6,1989.1 1520.1,1989.1 1522.7,1988.7 1525.2,1988.3 1527.8,1988.2 1530.3,1987.9 1532.9,1987.8 1535.4,1988.1 1537.9,1989.3 1540.5,1989.8 1543,1990.3 1545.6,1991.7 1548.1,1992.3 1550.7,1993.5 1553.2,1994.2 1555.8,1995.4 1558.3,1994.2 1560.8,1994 1563.4,1992.8 1565.9,1994.4 1568.5,1995.3 1571,1996.7 1572.3,1925.7 1576.1,1953.6 1578.7,1961.5 1581.2,1968.8 1583.7,1970 1586.3,1970.6 1588.8,1971.7 1591.4,1972.6 1593.9,1975.4 1596.5,1977.7 1599,1980.2 1601.6,1980.3 1604.1,1979.5 1606.6,1979.4 1609.2,1979.3 1611.7,1978.9 1614.3,1979.3 1616.8,1979.8 1619.4,1980.7 1621.9,1981 1624.5,1981.5 1627,1983.7 1629.5,1985.4 1632.1,1987.4 1634.6,1989.5 1637.1,1991.6 1639.7,1991.1 1642.2,1991.3 1644.8,1990.5 1647.3,1990.3 1649.9,1992.5 1652.4,1994.3 1655,1996.7 1657.5,1998 1660,1999.1 1662.6,2000.4 1665.1,2001.4 1667.6,2003 1670.2,2003 1672.7,2003.7 1675.3,2003.6 1677.8,2003.8 1680.4,2004.2 1682.9,2005.3 1685.5,2006.7 1688,2007.9 1690.5,2009 1693,2010.6 1695.6,2009.7 1698.1,2008.5 1700.7,2007.3 1703.3,2006.7 1705.8,2005.5 1708.3,2003.1 1710.9,2001 1713.4,1999.1 1716,1996.7 1718.5,1997.7 1721.1,1999.2 1723.6,2000.5 1726.1,2001.2 1728.6,2001.7 1731.1,2001.8 1733.5,2002.6 1736,2004 1738.6,2005.8 1741.1,2007.1 1743.6,2009 1746.2,2010.2 1748.7,2010 1751.3,2010.5 1753.8,2010.2 1756.3,2010.2 1758.9,2011.3 1761.5,2012.7 1764,2014 1766.6,2012.5 1769.1,2011.5 1771.6,2013.2 1774.2,2014.5 1776.7,2016.4 1779.3,2017.8 1781.8,2017.6 1784.4,2017.3 1786.9,2017 1789.4,2017 1792,2016.6 1794.5,2016.6 1797.1,2017.7 1799.6,2018.2 1802.1,2019.4 1804.7,2020.3 1807.2,2020.7 1809.8,2020.9 1812.3,2021.6 1814.8,2021.7 1817.4,2022.1 1819.9,2022.1 1822.4,2021.8 1825,2021.5 1827.5,2021.4 1830.1,2021 1832.6,2021.1 1835.2,2019.8 1837.7,2019.1 1840.3,2017.8 1842.3,1930.4 1845.4,1955.7 1848,1964.6 1850.5,1960.1 1853,1955.7 1854.2,1968.4 1856.5,1970.4 1858.7,1971.9 1861,1974.1 1863.2,1976 1865.7,1977.8 1868.3,1979.8 1870.8,1981.6 1873.4,1983.6 1875.9,1984 1878.5,1984.7 1881,1985.3 1883.5,1986.1 1886.1,1985.6 1888.6,1985.6 1891.2,1985.1 1893.7,1984.9 1896.2,1986.3 1898.8,1988 1901.3,1989.4 1903.9,1990.6 1906.4,1992.3 1909,1993.7 1911.5,1994.7 1914,1996.3 1916.6,1997.9 1919.1,1999.4 1921.6,2001.4 1924.2,2001.2 1926.7,2001 1929.3,2000.5 1931.8,2000.3 1934.4,2000.1 1936.9,2001.2 1939.5,2002.3 1942,2003.1 1944.5,2004.5 1947.1,2005.3 1949.6,2006.4 1952.2,2005.9 1954.7,2005 1957.3,2004.3 1959.8,2003.9 1962.3,2005.7 1964.9,2007.2 1967.4,2008.7 1970,2010.2 1972.5,2010.6 1975.1,2011.3 1977.6,2012.2 1980.2,2010.9 1982.7,2009.9 1985.2,2008.9 1987.8,2007.9 1990.3,2006.9 1992.8,2007.7 1995.4,2008.8 1997.9,2010 2000.5,2010.9 2003,2011.6 2005.6,2012.8 2008.1,2013.6 2010.7,2014.5 2013.2,2015.3 2015.8,2015.6 2018.3,2016.2 2020.8,2016.9 2023.4,2017.2 2025.9,2017.8 2028.4,2017.8 2031,2018.5 2033.5,2018.8 2036.1,2018.8 2038.6,2019 2041.1,2019.5 2043.4,2019.9 2045.6,2020 2047.8,2019.9 2050.1,2020.2 2052.3,2020.3 2054.5,2020.9 2056.7,2020.8 2059,2021.1 2061.5,2022.8 2064.1,2024.1 2066.6,2025.1 2069.1,2026.7 2071.4,2027.4 2073.6,2027.9 2075.8,2028.7 2078,2029.4 2080.2,2029.7 2082.5,2030.2 2084.7,2031.4 2086.9,2031.8 2089.4,2030.7 2092,2029.9 2094.6,2028.7 2097.8,2029.7 2100.9,2030.5" fill="none" stroke="#c00000" stroke-width="6.5" stroke-linecap="round" stroke-linejoin="round"/>
<polyline points="452.8,1806.6 455.2,1807.8 457.6,1807 460,1806.5 462.4,1804.5 464.8,1809.2 467,1808.5 469.3,1810 471.5,1813.7 473.8,1809.6 476,1814.6 478.3,1810.4 480.6,1814.9 482.9,1815.8 485.1,1812.8 487.4,1814.9 489.7,1817.8 492.2,1816.7 494.7,1817.1 497.2,1816.2 499.6,1816 502.1,1818.8 504.6,1820 507.1,1818.3 509.6,1818.5 512.1,1817.1 514.6,1820 517.1,1819.4 519.6,1816.3 521.9,1816.6 524.1,1818.6 526.4,1818.4 528.7,1821.6 531,1818.4 533.2,1818.4 535.6,1822.1 538,1818 540.3,1820.7 542.7,1819.6 545,1822.7 547.4,1821.4 549.8,1822.8 552.1,1819.7 554.5,1822.8 556.8,1822.8 559.1,1822.4 561.4,1824.5 563.6,1825.2 565.9,1821.6 568.2,1823 570.5,1823.7 572.8,1823.3 575.1,1822.9 577.4,1824.5 579.7,1824 581.9,1826.7 584.2,1825.4 586.4,1823.6 588.7,1824.7 591,1825.5 593.2,1824.9 595.5,1823.9 597.7,1823.4 600,1823.8 602.3,1829.6 604.5,1829 606.8,1826.3 609,1830.2 611.3,1832.3 613.6,1830.8 615.8,1829.2 618.1,1831.8 620.6,1829 623.2,1825.3 625.7,1829.3 628.2,1828.9 630.7,1835.6 633.2,1836.5 635.5,1836.9 637.8,1838.9 640.1,1838 642.4,1836.6 644.7,1837 647,1837 649.3,1837 651.6,1841 653.9,1841.8 656.2,1839.8 658.7,1838 661.3,1838.9 663.8,1838.6 665.1,1814.9 667.6,1808.2 670.1,1807.9 672.7,1811.9 675.2,1815.3 677.8,1817.3 680.4,1820.5 683.6,1821.4 686.8,1817.2 689,1818.1 691.2,1819.6 693.5,1819.5 695.7,1822.3 698,1820.4 700.2,1820.3 702.5,1823.2 704.7,1824.2 707,1825.7 709.6,1829.6 712.2,1834.9 714.4,1835.3 716.7,1833.7 719,1834 721.2,1832.9 723.5,1833.8 725.7,1835.2 728,1833.5 730.2,1836.2 732.5,1834.4 735,1837.1 737.6,1840.6 740.1,1838.7 742.6,1840 745.2,1843.1 747.4,1842.8 749.7,1845.6 751.9,1843.5 754.2,1847.4 756.5,1848.2 758.7,1848.6 761,1848 763.2,1848.2 765.5,1850.3 768.1,1851.3 770.6,1852.6 773.2,1853.8 775.8,1855.8 778.3,1857.3 780.8,1858.5 783.2,1859.4 785.7,1857.4 788.3,1856.6 790.9,1855.8 793.4,1854.9 796,1852.9 798.2,1853.5 800.5,1854.3 802.7,1856.2 804.9,1857.8 807.2,1860.6 809.4,1861.5 811.6,1862.5 813.8,1863.9 816.4,1864.3 819,1863.6 821.5,1864.6 823.7,1863.6 826,1867 828.2,1868.2 830.4,1868.6 832.6,1870.9 834.8,1873.5 837,1873.5 839.3,1875.4 841.5,1875.5 843.8,1876.8 846,1879.5 848.3,1878.1 850.5,1879.7 852.8,1882.3 855,1882.7 857.3,1882.8 859.5,1885.6 861.7,1885.7 864,1887.3 866.2,1887.7 868.5,1889 870.7,1890.1 873,1890.5 875.2,1890.7 877.4,1891.8 880,1895.6 882.5,1896.4 885,1897 887.6,1900.8 890.1,1900.9 892.6,1900.9 895.2,1902.5 897.7,1902.2 900.3,1903.2 902.8,1903.8 905.4,1903.3 907.9,1902.8 910.4,1900.1 913,1899.7 915.5,1898.4 918.1,1895.6 920.6,1895 922.8,1894 925,1894.9 927.2,1896 929.4,1895.1 931.6,1895.4 933.8,1895.5 936,1893.8 938.4,1897.9 940.8,1899.1 943.2,1899.4 945.8,1900.8 948.4,1899.3 950.9,1898.3 953.4,1902.4 956,1903.5 958.5,1906.1 961,1905.3 963.6,1907.6 966.1,1906.7 968.7,1907.8 971.2,1908.9 973.8,1909.3 976.3,1912 978.9,1912.4 981.4,1913.9 984,1916.1 986.5,1916.7 989,1919.4 991.6,1920.3 994.1,1922.4 996.7,1923.3 999.2,1925.1 1001.7,1925.9 1004.3,1925.3 1006.8,1927.6 1009.1,1927.5 1011.4,1929.3 1013.6,1929.9 1015.9,1931.1 1018.1,1930.4 1020.4,1931.8 1022.6,1933.4 1024.9,1934.7 1027.2,1935 1029.7,1934 1032.3,1935.6 1034.8,1935 1037.3,1936.4 1039.9,1937.3 1042.4,1936.3 1044.9,1935.9 1047.5,1933.3 1050,1930.3 1052.6,1928 1055.1,1926.4 1057.7,1925.1 1059.9,1925.2 1062.1,1924.9 1064.4,1925.4 1066.6,1926.2 1068.8,1928.2 1071.1,1927.6 1073.3,1929 1075.5,1929.1 1078.1,1931.4 1080.6,1932.4 1083.1,1933.6 1085.7,1936.6 1088.2,1936.3 1090.8,1937 1093.3,1937.7 1095.8,1938.3 1098.4,1937 1100.9,1938 1103.5,1939.4 1106,1941.7 1108.5,1944.1 1111.1,1943.5 1113.6,1941.7 1116.1,1941.6 1118.7,1942.3 1121.2,1941.6 1123.8,1940.7 1126.3,1942.1 1128.9,1942.9 1131.4,1945.3 1134,1945.8 1136.5,1947.9 1139.1,1948.4 1141.6,1948.5 1144.1,1949.8 1146.7,1950.6 1149.2,1952 1151.8,1951.8 1154.3,1951.2 1156.9,1951.7 1159.4,1952.3 1161.9,1952.8 1164.5,1954 1167,1954.7 1169.6,1955.7 1172.1,1956.2 1174.6,1957.1 1177.2,1956.9 1179.7,1956.6 1182.3,1957.3 1183.6,1930.2 1184.8,1849 1187.4,1865.6 1189.9,1870.2 1192.4,1873.5 1195,1877.3 1197.5,1881.4 1200,1888.7 1202.2,1890 1204.4,1890.8 1206.6,1892.3 1208.8,1893.3 1211,1892.9 1213.2,1894.5 1215.4,1895.7 1217.9,1897.3 1220.5,1898.6 1223,1899.9 1225.5,1901.4 1228.1,1902.5 1230.6,1903.9 1233.2,1909 1235.7,1913.5 1238.2,1913.8 1240.8,1913.8 1243.3,1913.5 1245.8,1914.4 1248.4,1914.6 1250.9,1917.2 1253.4,1920.2 1256,1922.7 1258.5,1925.8 1261.7,1922.4 1264.9,1918.9 1268.1,1922.4 1271.3,1925.5 1273.8,1926.9 1276.4,1927 1278.9,1927.5 1281.5,1928 1284,1928.6 1286.5,1929.3 1289.1,1930.9 1291.6,1932.5 1294.1,1935.2 1296.7,1936.5 1299.2,1938.3 1301.8,1940.3 1304.3,1942 1306.9,1943.9 1309.4,1943.3 1312,1943 1314.5,1942.5 1317,1942.4 1319.6,1944.8 1322.2,1947.6 1324.7,1949.6 1327.2,1952.3 1329.8,1954.1 1332.3,1955.7 1334.8,1955.2 1337.2,1954.9 1339.7,1954.7 1342.2,1953.5 1344.7,1954.8 1347.2,1955.4 1349.8,1956.8 1352.3,1957 1354.9,1958.3 1357.4,1959.6 1360,1960 1362.5,1961 1364.8,1961 1367,1961.4 1369.3,1961.7 1371.5,1962.2 1373.8,1962.1 1376.1,1962.5 1378.3,1962.6 1380.6,1963.1 1382.8,1963.5 1385.4,1962.8 1387.9,1962 1390.5,1961.8 1393,1961.5 1395.5,1962.5 1398.1,1963.4 1400.6,1965.2 1403.2,1966.5 1405.7,1967.4 1408.3,1968.6 1410.8,1968.2 1413.4,1968 1415.9,1967.8 1418.5,1969.5 1421,1971.6 1423.6,1973 1426.1,1975 1428.6,1974.8 1431.2,1974.2 1433.7,1973.5 1436.2,1973.2 1438.8,1972.5 1441.3,1972.9 1443.9,1973.8 1446.4,1974.2 1449,1975.3 1451.5,1975.7 1454.1,1975 1456.6,1974.3 1459.1,1973.2 1461.7,1972.6 1464.2,1973.8 1466.8,1975.9 1469.3,1977.2 1471.9,1979 1474.4,1979.9 1477,1980.6 1479.5,1981 1482.1,1981.1 1484.6,1981.2 1487.1,1980 1489.7,1978.7 1492.2,1977.8 1494.4,1978.2 1496.6,1979.4 1498.9,1980 1501.1,1980.8 1503.3,1981.7 1505.6,1982.4 1507.8,1983.3 1510,1984.1 1512.6,1985.6 1515.1,1987.5 1517.6,1988.9 1520.1,1989 1522.7,1988.8 1525.2,1988.6 1527.8,1988.1 1530.3,1988.2 1532.9,1988.1 1535.4,1988.4 1537.9,1988.9 1540.5,1989.7 1543,1990.6 1545.6,1991.1 1548.1,1992 1550.7,1993.4 1553.2,1994.5 1555.8,1995.6 1558.3,1994.5 1560.8,1994 1563.4,1992.7 1565.9,1994.3 1568.5,1995.1 1571,1996.4 1572.3,1925.5 1576.1,1953.3 1578.7,1961.2 1581.2,1968.8 1583.7,1969.5 1586.3,1971 1588.8,1971.5 1591.4,1972.3 1593.9,1974.9 1596.5,1977.8 1599,1980.5 1601.6,1979.7 1604.1,1979.4 1606.6,1979.6 1609.2,1979 1611.7,1979.3 1614.3,1979.4 1616.8,1980.1 1619.4,1980.4 1621.9,1981.2 1624.5,1981.5 1627,1983.4 1629.5,1985.8 1632.1,1987.3 1634.6,1989.8 1637.1,1991.4 1639.7,1991.4 1642.2,1990.9 1644.8,1990.9 1647.3,1990.1 1649.9,1992.5 1652.4,1994.5 1655,1997 1657.5,1998.2 1660,1999.3 1662.6,2000.3 1665.1,2001.5 1667.6,2002.8 1670.2,2003.2 1672.7,2003.3 1675.3,2003.5 1677.8,2004.2 1680.4,2004.3 1682.9,2005.4 1685.5,2007.1 1688,2007.9 1690.5,2009.4 1693,2010.4 1695.6,2009.8 1698.1,2008.8 1700.7,2007.4 1703.3,2006.7 1705.8,2005.7 1708.3,2003.2 1710.9,2001 1713.4,1998.9 1716,1997 1718.5,1997.7 1721.1,1999.3 1723.6,2000.5 1726.1,2001 1728.6,2001.6 1731.1,2002.3 1733.5,2002.4 1736,2004.3 1738.6,2005.5 1741.1,2007.3 1743.6,2008.9 1746.2,2010 1748.7,2010.4 1751.3,2010.5 1753.8,2010.1 1756.3,2009.9 1758.9,2011.2 1761.5,2013 1764,2013.7 1766.6,2013 1769.1,2011.3 1771.6,2013.2 1774.2,2014.4 1776.7,2016 1779.3,2017.9 1781.8,2017.3 1784.4,2017.3 1786.9,2017.4 1789.4,2017.1 1792,2017 1794.5,2016.9 1797.1,2017.2 1799.6,2018.3 1802.1,2019.6 1804.7,2020.5 1807.2,2020.4 1809.8,2021.1 1812.3,2021.2 1814.8,2021.7 1817.4,2021.9 1819.9,2021.7 1822.4,2022.1 1825,2021.5 1827.5,2021.7 1830.1,2021.1 1832.6,2021.1 1835.2,2019.8 1837.7,2018.8 1840.3,2017.6 1842.3,1930.5 1845.4,1955.5 1848,1964.8 1850.5,1960.2 1853,1955.5 1854.2,1968.3 1856.5,1970.3 1858.7,1972.4 1861,1974 1863.2,1975.8 1865.7,1978.2 1868.3,1980 1870.8,1981.8 1873.4,1983.5 1875.9,1984 1878.5,1984.7 1881,1985.2 1883.5,1985.8 1886.1,1985.8 1888.6,1985.4 1891.2,1985.2 1893.7,1984.8 1896.2,1986 1898.8,1987.9 1901.3,1989.3 1903.9,1990.7 1906.4,1992.1 1909,1993.6 1911.5,1995.2 1914,1996.5 1916.6,1998.1 1919.1,1999.6 1921.6,2001.3 1924.2,2001.1 1926.7,2001.1 1929.3,2000.5 1931.8,2000.3 1934.4,2000 1936.9,2000.9 1939.5,2002.5 1942,2003 1944.5,2004.4 1947.1,2005.6 1949.6,2006.3 1952.2,2005.9 1954.7,2005.1 1957.3,2004.3 1959.8,2003.7 1962.3,2005.2 1964.9,2007.2 1967.4,2008.8 1970,2010.4 1972.5,2010.6 1975.1,2011.6 1977.6,2012.1 1980.2,2011.2 1982.7,2010.1 1985.2,2008.9 1987.8,2008.3 1990.3,2006.6 1992.8,2008.1 1995.4,2009.1 1997.9,2009.9 2000.5,2011 2003,2012.1 2005.6,2012.5 2008.1,2013.6 2010.7,2014.5 2013.2,2015.2 2015.8,2015.9 2018.3,2016.2 2020.8,2016.8 2023.4,2017.3 2025.9,2017.9 2028.4,2017.9 2031,2018.4 2033.5,2018.7 2036.1,2018.8 2038.6,2019.3 2041.1,2019.4 2043.4,2020 2045.6,2019.9 2047.8,2020.3 2050.1,2020.3 2052.3,2020.5 2054.5,2020.6 2056.7,2020.7 2059,2021.4 2061.5,2022.5 2064.1,2023.9 2066.6,2025.3 2069.1,2026.9 2071.4,2027.2 2073.6,2027.8 2075.8,2028.8 2078,2029.2 2080.2,2029.9 2082.5,2030.7 2084.7,2031.3 2086.9,2032 2089.4,2030.5 2092,2029.6 2094.6,2028.9 2097.8,2029.7 2100.9,2030.2" fill="none" stroke="#c00000" stroke-width="6.5" stroke-linecap="round" stroke-linejoin="round"/>
<polyline points="452.8,1802.7 455.2,1803.9 457.6,1803.6 460,1805.8 462.4,1809.3 464.8,1808.1 467,1808.7 469.3,1807.3 471.5,1810.3 473.8,1815.1 476,1814.2 478.3,1812.9 480.6,1813.5 482.9,1815.8 485.1,1815.9 487.4,1812.4 489.7,1816 492.2,1815 494.7,1816.9 497.2,1816.1 499.6,1817.9 502.1,1818.7 504.6,1819.9 507.1,1817.2 509.6,1817.9 512.1,1819.7 514.6,1816.1 517.1,1816.4 519.6,1819.2 521.9,1816.8 524.1,1817.4 526.4,1817.2 528.7,1821 531,1816.9 533.2,1820.4 535.6,1821.9 538,1818.4 540.3,1819.9 542.7,1822.3 545,1821.5 547.4,1820.4 549.8,1818.8 552.1,1821.3 554.5,1821.1 556.8,1823.4 559.1,1821.5 561.4,1822.5 563.6,1824.2 565.9,1825.5 568.2,1823.3 570.5,1823.9 572.8,1825.3 575.1,1827.6 577.4,1824 579.7,1828.2 581.9,1826.8 584.2,1825 586.4,1826.5 588.7,1824.7 591,1823.4 593.2,1827 595.5,1825 597.7,1825.8 600,1826.3 602.3,1829.1 604.5,1829.1 606.8,1826 609,1829.6 611.3,1829.6 613.6,1830.3 615.8,1832.9 618.1,1831.5 620.6,1829.2 623.2,1828.8 625.7,1828.8 628.2,1831.3 630.7,1833.6 633.2,1837.4 635.5,1837.1 637.8,1837.9 640.1,1836.8 642.4,1835.5 644.7,1839.1 647,1839 649.3,1840.5 651.6,1841 653.9,1838.4 656.2,1839.4 658.7,1837.5 661.3,1839.7 663.8,1835.1 665.1,1811 667.6,1810.9 670.1,1806.9 672.7,1808.4 675.2,1815 677.8,1819 680.4,1821.8 683.6,1818 686.8,1818.8 689,1818.3 691.2,1819.8 693.5,1822.3 695.7,1822.2 698,1823.1 700.2,1820.7 702.5,1822.2 704.7,1823.7 707,1822.3 709.6,1830.8 712.2,1832.2 714.4,1832.5 716.7,1833 719,1833 721.2,1835.8 723.5,1834.8 725.7,1835 728,1834.9 730.2,1833.7 732.5,1835 735,1838.7 737.6,1840 740.1,1841.7 742.6,1840.9 745.2,1842.2 747.4,1842.3 749.7,1844.9 751.9,1844.9 754.2,1846 756.5,1846.8 758.7,1847.9 761,1847.8 763.2,1850.1 765.5,1848.6 768.1,1852.8 770.6,1853 773.2,1852.8 775.8,1855.4 778.3,1856.8 780.8,1857 783.2,1858.2 785.7,1858 788.3,1856.5 790.9,1857 793.4,1854 796,1854.2 798.2,1855.6 800.5,1856 802.7,1856.6 804.9,1859.4 807.2,1858.8 809.4,1861.4 811.6,1859.8 813.8,1862.2 816.4,1863.2 819,1861.7 821.5,1864.7 823.7,1863.6 826,1866.7 828.2,1866.8 830.4,1870.6 832.6,1870.9 834.8,1873.1 837,1873.6 839.3,1875.5 841.5,1876.6 843.8,1876.6 846,1877.5 848.3,1880.5 850.5,1879.6 852.8,1883 855,1882 857.3,1882.8 859.5,1883.9 861.7,1886.9 864,1888.3 866.2,1887.7 868.5,1889.4 870.7,1889.2 873,1892 875.2,1892.3 877.4,1891.8 880,1893.3 882.5,1896.8 885,1896.8 887.6,1900.8 890.1,1901 892.6,1901.3 895.2,1902.6 897.7,1902.3 900.3,1903.4 902.8,1902.7 905.4,1905.2 907.9,1902.1 910.4,1902 913,1898.7 915.5,1899 918.1,1898 920.6,1895 922.8,1893.9 925,1894.8 927.2,1895.4 929.4,1894.2 931.6,1895 933.8,1893.8 936,1894.7 938.4,1897.2 940.8,1898.3 943.2,1900.9 945.8,1899 948.4,1900.4 950.9,1898.2 953.4,1902.3 956,1904.6 958.5,1906.5 961,1906.3 963.6,1906.5 966.1,1907.4 968.7,1909.1 971.2,1909.2 973.8,1911.5 976.3,1910.8 978.9,1913 981.4,1915.2 984,1915.8 986.5,1917 989,1917.5 991.6,1919.2 994.1,1921 996.7,1924 999.2,1924.9 1001.7,1924.5 1004.3,1927 1006.8,1926 1009.1,1928.1 1011.4,1929.7 1013.6,1929.2 1015.9,1931.3 1018.1,1931.5 1020.4,1931.1 1022.6,1932.5 1024.9,1933.6 1027.2,1934 1029.7,1935.5 1032.3,1934.7 1034.8,1936.5 1037.3,1935.8 1039.9,1935.8 1042.4,1937.3 1044.9,1934.2 1047.5,1933 1050,1931.4 1052.6,1928.9 1055.1,1926.5 1057.7,1923.5 1059.9,1925.1 1062.1,1924.9 1064.4,1926.6 1066.6,1926.2 1068.8,1927.7 1071.1,1927.9 1073.3,1928.6 1075.5,1929.8 1078.1,1930.4 1080.6,1932 1083.1,1935.1 1085.7,1935.5 1088.2,1936.9 1090.8,1937.4 1093.3,1937 1095.8,1936.9 1098.4,1937.2 1100.9,1939 1103.5,1939.3 1106,1941.7 1108.5,1943.5 1111.1,1942.3 1113.6,1942.5 1116.1,1941.6 1118.7,1941.8 1121.2,1941.3 1123.8,1940.7 1126.3,1941.7 1128.9,1943.3 1131.4,1944.2 1134,1945.4 1136.5,1946.8 1139.1,1948.8 1141.6,1949.2 1144.1,1950.7 1146.7,1950.3 1149.2,1952 1151.8,1951.6 1154.3,1952.4 1156.9,1952.3 1159.4,1952.8 1161.9,1952.4 1164.5,1954.2 1167,1954.3 1169.6,1955.5 1172.1,1956.2 1174.6,1956.9 1177.2,1957.2 1179.7,1957 1182.3,1958 1183.6,1928.9 1184.8,1849.8 1187.4,1865.8 1189.9,1870.1 1192.4,1874.2 1195,1877.9 1197.5,1880.8 1200,1888.6 1202.2,1890 1204.4,1891.5 1206.6,1891.1 1208.8,1892.8 1211,1893.8 1213.2,1894.9 1215.4,1895.1 1217.9,1897.2 1220.5,1898.2 1223,1900.3 1225.5,1900.6 1228.1,1903.3 1230.6,1904.1 1233.2,1908.5 1235.7,1912.5 1238.2,1912.9 1240.8,1913.8 1243.3,1914 1245.8,1913.6 1248.4,1914.1 1250.9,1916.7 1253.4,1919.6 1256,1922.5 1258.5,1925.5 1261.7,1923.1 1264.9,1919.9 1268.1,1922.9 1271.3,1925.7 1273.8,1926.3 1276.4,1927.3 1278.9,1928.1 1281.5,1928.5 1284,1929 1286.5,1929.2 1289.1,1931.4 1291.6,1933.4 1294.1,1935.1 1296.7,1936.1 1299.2,1938.5 1301.8,1940.1 1304.3,1941.9 1306.9,1944.7 1309.4,1943.9 1312,1943.4 1314.5,1942.3 1317,1942.5 1319.6,1945.1 1322.2,1947.6 1324.7,1950 1327.2,1952.2 1329.8,1954.3 1332.3,1956.2 1334.8,1955.4 1337.2,1955.1 1339.7,1954.5 1342.2,1953.9 1344.7,1954.4 1347.2,1955.9 1349.8,1956.5 1352.3,1957.8 1354.9,1958 1357.4,1959.7 1360,1960.4 1362.5,1961 1364.8,1961.7 1367,1961.4 1369.3,1961.6 1371.5,1962.1 1373.8,1962.1 1376.1,1962.5 1378.3,1963.1 1380.6,1963.1 1382.8,1963.4 1385.4,1962.6 1387.9,1962.4 1390.5,1961.9 1393,1961.3 1395.5,1962.7 1398.1,1963.9 1400.6,1964.9 1403.2,1966 1405.7,1967.6 1408.3,1969 1410.8,1968.3 1413.4,1968 1415.9,1967.7 1418.5,1969.6 1421,1971 1423.6,1973.2 1426.1,1974.8 1428.6,1974.4 1431.2,1974.3 1433.7,1973.6 1436.2,1973.2 1438.8,1972.5 1441.3,1973.1 1443.9,1973.7 1446.4,1974.4 1449,1975.4 1451.5,1975.9 1454.1,1974.9 1456.6,1973.9 1459.1,1973.2 1461.7,1972.7 1464.2,1974.1 1466.8,1975.7 1469.3,1977.4 1471.9,1978.4 1474.4,1980.3 1477,1980.2 1479.5,1981.1 1482.1,1981 1484.6,1981.4 1487.1,1980.5 1489.7,1978.8 1492.2,1977.5 1494.4,1978.7 1496.6,1979.3 1498.9,1980.3 1501.1,1980.7 1503.3,1981.6 1505.6,1982.7 1507.8,1983.2 1510,1984.3 1512.6,1985.5 1515.1,1987.6 1517.6,1988.8 1520.1,1988.9 1522.7,1988.3 1525.2,1988.2 1527.8,1988.5 1530.3,1988 1532.9,1988 1535.4,1988.2 1537.9,1989 1540.5,1989.4 1543,1990.4 1545.6,1991.6 1548.1,1992.4 1550.7,1993.3 1553.2,1994.7 1555.8,1995.7 1558.3,1994.7 1560.8,1993.4 1563.4,1992.9 1565.9,1994.1 1568.5,1995.7 1571,1996.6 1572.3,1925.8 1576.1,1953.7 1578.7,1961.1 1581.2,1968.8 1583.7,1969.9 1586.3,1971 1588.8,1971.6 1591.4,1972.5 1593.9,1975.4 1596.5,1977.4 1599,1980.4 1601.6,1980.1 1604.1,1979.7 1606.6,1979.4 1609.2,1979.4 1611.7,1979.2 1614.3,1979.6 1616.8,1980.1 1619.4,1980.2 1621.9,1980.9 1624.5,1981.3 1627,1983.8 1629.5,1985.8 1632.1,1987.4 1634.6,1989.7 1637.1,1991.7 1639.7,1991 1642.2,1990.9 1644.8,1990.8 1647.3,1990.4 1649.9,1992.3 1652.4,1994.8 1655,1996.6 1657.5,1998 1660,1999.2 1662.6,2000.8 1665.1,2001.8 1667.6,2003.2 1670.2,2003.3 1672.7,2003.4 1675.3,2004 1677.8,2004.1 1680.4,2004.4 1682.9,2005.4 1685.5,2006.6 1688,2008.1 1690.5,2009.5 1693,2010.8 1695.6,2009.5 1698.1,2008.3 1700.7,2007.6 1703.3,2006.8 1705.8,2005.3 1708.3,2003.5 1710.9,2000.9 1713.4,1998.8 1716,1996.4 1718.5,1997.8 1721.1,1999.1 1723.6,2000.8 1726.1,2001.3 1728.6,2001.3 1731.1,2001.9 1733.5,2002.8 1736,2003.9 1738.6,2005.5 1741.1,2007.1 1743.6,2008.4 1746.2,2010.1 1748.7,2010.1 1751.3,2010.1 1753.8,2010.5 1756.3,2010.1 1758.9,2011.3 1761.5,2013 1764,2013.9 1766.6,2013 1769.1,2011.6 1771.6,2013.2 1774.2,2014.5 1776.7,2016 1779.3,2017.9 1781.8,2017.5 1784.4,2017.4 1786.9,2017.3 1789.4,2017.1 1792,2016.6 1794.5,2016.5 1797.1,2017.8 1799.6,2018.5 1802.1,2019.3 1804.7,2020.4 1807.2,2020.5 1809.8,2021.2 1812.3,2021.1 1814.8,2022 1817.4,2022.2 1819.9,2021.9 1822.4,2022.1 1825,2021.5 1827.5,2021.3 1830.1,2021 1832.6,2021.2 1835.2,2020.2 1837.7,2019 1840.3,2017.7 1842.3,1930.6 1845.4,1955.5 1848,1964.5 1850.5,1960.3 1853,1956 1854.2,1968.5 1856.5,1970.4 1858.7,1972.3 1861,1974 1863.2,1976.2 1865.7,1978 1868.3,1979.7 1870.8,1981.6 1873.4,1983.8 1875.9,1984.1 1878.5,1984.6 1881,1985.7 1883.5,1986.1 1886.1,1985.8 1888.6,1985.6 1891.2,1985.4 1893.7,1984.7 1896.2,1986.2 1898.8,1987.5 1901.3,1989.2 1903.9,1990.6 1906.4,1992.3 1909,1993.6 1911.5,1994.9 1914,1996.2 1916.6,1998 1919.1,1999.5 1921.6,2001.6 1924.2,2001.3 1926.7,2001.1 1929.3,2000.4 1931.8,2000.4 1934.4,2000.2 1936.9,2001.1 1939.5,2002.4 1942,2003.5 1944.5,2004.5 1947.1,2005.6 1949.6,2006.5 1952.2,2006 1954.7,2004.9 1957.3,2004.6 1959.8,2004 1962.3,2005.5 1964.9,2006.9 1967.4,2008.4 1970,2010.3 1972.5,2011.1 1975.1,2011.4 1977.6,2012 1980.2,2011 1982.7,2009.8 1985.2,2009.1 1987.8,2008.3 1990.3,2007.1 1992.8,2007.8 1995.4,2009 1997.9,2009.7 2000.5,2011.1 2003,2011.7 2005.6,2012.4 2008.1,2013.6 2010.7,2014.2 2013.2,2015.1 2015.8,2015.5 2018.3,2016.2 2020.8,2016.8 2023.4,2017.4 2025.9,2017.5 2028.4,2018.2 2031,2018.1 2033.5,2018.5 2036.1,2019 2038.6,2019.1 2041.1,2019.4 2043.4,2019.8 2045.6,2019.8 2047.8,2020.3 2050.1,2020.2 2052.3,2020.7 2054.5,2020.9 2056.7,2021 2059,2020.9 2061.5,2022.7 2064.1,2023.6 2066.6,2025.3 2069.1,2026.6 2071.4,2027.1 2073.6,2028 2075.8,2028.7 2078,2029.3 2080.2,2029.8 2082.5,2030.5 2084.7,2031.2 2086.9,2031.6 2089.4,2030.9 2092,2030 2094.6,2028.8 2097.8,2029.8 2100.9,2030.4" fill="none" stroke="#c00000" stroke-width="6.5" stroke-linecap="round" stroke-linejoin="round"/>
</g>
<polyline points="398.7,2149.3 398.7,1857.9 569.3,1857.9 569.3,1646 740,1646 740,1710.9 910.6,1710.9 910.6,1783.8 1081.3,1783.8 1081.3,1799.1 1252,1799.1 1252,1833.5 1422.6,1833.5 1422.6,1884.7 1593.3,1884.7 1593.3,1910.6 1763.9,1910.6 1763.9,1915.1 1934.6,1915.1 1934.6,1939.5 2105.2,1939.5 2105.2,2149.3" fill="none" stroke="#000" stroke-width="7" stroke-linecap="butt" stroke-linejoin="round"/>
<polyline points="398.7,2149.3 398.7,1973.9 569.3,1973.9 569.3,1834 740,1834 740,1875.1 910.6,1875.1 910.6,1919.7 1081.3,1919.7 1081.3,1930.3 1252,1930.3 1252,1951.6 1422.6,1951.6 1422.6,1984.1 1593.3,1984.1 1593.3,2000.3 1763.9,2000.3 1763.9,2003.3 1934.6,2003.3 1934.6,2018.5 2105.2,2018.5 2105.2,2149.3" fill="none" stroke="#000" stroke-width="7" stroke-linecap="butt" stroke-linejoin="round"/>
<polyline points="401.7,2149.3 401.7,1838.6 572.3,1838.6 572.3,1673.9 743,1673.9 743,1737.7 913.6,1737.7 913.6,1805.6 1084.3,1805.6 1084.3,1818.3 1255,1818.3 1255,1852.3 1425.6,1852.3 1425.6,1899.4 1596.3,1899.4 1596.3,1924.8 1766.9,1924.8 1766.9,1927.8 1937.6,1927.8 1937.6,1951.6 2108.2,1951.6 2108.2,2149.3" fill="none" stroke="#000" stroke-width="7" stroke-linecap="round" stroke-linejoin="round" stroke-dasharray="19 36.22" stroke-dashoffset="-7.5"/>
<polyline points="401.7,2149.3 401.7,1970.4 572.3,1970.4 572.3,1818.8 743,1818.8 743,1862.9 913.6,1862.9 913.6,1909.6 1084.3,1909.6 1084.3,1917.7 1255,1917.7 1255,1943 1425.6,1943 1425.6,1974.9 1596.3,1974.9 1596.3,1992.7 1766.9,1992.7 1766.9,1994.7 1937.6,1994.7 1937.6,2010.9 2108.2,2010.9 2108.2,2149.3" fill="none" stroke="#000" stroke-width="7" stroke-linecap="round" stroke-linejoin="round" stroke-dasharray="19 36.22" stroke-dashoffset="-7.5"/>
<g>
<polygon points="302.7,3342.6 303.2,3246.2 303.9,3156.5 305.2,3116.7 306.8,3096.7 308.8,3071.3 311.4,3051.2 314.1,3031.1 316.1,3023.8 318.1,3017.7 321.4,3007.7 324.1,2999 328.8,2984.3 334.7,2971.5 342.7,2955.4 345,2951.4 347.4,2946.6 349.4,2947.7 351.4,2947.2 353.1,2947.4 354.7,2949.1 356.4,2948.7 358.1,2948.8 359.8,2949 361.6,2951.7 363.4,2951.7 366.4,2960.5 368.1,2957.8 369.7,2957.6 371.4,2959 373.5,2947.7 375.5,2948.2 377.6,2949.6 379.5,2967 381.6,2968.9 383.6,2969.9 386.7,2962.7 389.6,2965.7 391.1,2976.9 392.9,2976.5 394.6,2976.8 396.3,2975.2 398,2975 399.7,2973.5 401.5,2973.2 403.3,2971.5 405.1,2970.7 406.9,2968.9 409.8,2969.5 411.9,2973.1 413.9,2970.9 415.9,2970.9 418,2971.4 419.7,2973.1 421.5,2975.5 423.2,2977 425,2978.1 427,2980.1 429.1,2979.4 431.1,2981.9 432.8,2981.2 434.5,2983.3 436.2,2982.2 437.9,2983.3 439.5,2986.5 441.2,2986.5 443,2983.5 444.7,2984 446.5,2981.5 448.3,2982.4 450.3,2985.6 452.3,2986.1 454.3,2987.9 456.2,2989.2 458.2,2989.5 459.8,2989.5 461.5,2988.5 463.1,2992.1 463.1,3001.1 461.5,3002.7 459.8,3004.4 458.2,3005.9 456.6,3003.1 455,3003.5 453.4,3001.1 451.8,3002.2 450.2,2998.4 448.3,3000.7 446.3,3003.7 444.6,3005.6 442.9,3007.8 441.2,3009.3 439.4,3006 437.7,3007.2 435.9,3005.6 434.1,3003 432.4,3002.8 430.7,3004.2 429.1,3004.1 427.4,3001.5 425.7,3001.3 424,3003 422.2,3000.9 420.4,2999.4 418.5,2999.6 416.7,2996.8 414.9,2995.3 412.9,2996.7 410.9,2996.3 408.9,2998.1 406.8,2998.9 404.8,3001.1 402.8,2997.9 400.7,2994.2 398.8,2996.8 396.8,2996.6 395.2,2996.4 393.5,2998.6 391.9,2995.8 390.3,2997.3 388.7,2997.9 386.6,2996.1 384.6,2995.2 382.6,2996.9 380.5,2999.2 378.6,3000.7 376.6,3001.2 375,2986 373.1,2985.4 371.3,2985.7 369.4,2984.4 367.8,2984.3 366.1,2981.1 364.4,2981.2 361.3,2978.1 359.7,2976.5 358.1,2974.5 356.1,2972.5 354,2973.5 352,2970.4 349.7,2973.9 347.4,2977.6 345,2982.3 342.7,2989.2 337.4,2994.3 332.1,3003 328.1,3011.1 324.1,3025.8 320.1,3036.5 316.8,3047.9 314.8,3057.9 313.4,3078 311.4,3096.7 310.6,3154.5 309.2,3246.2 308.4,3342.6 302.7,3342.6" fill="#c00000"/>
<polyline points="461.1,2997.1 463.5,3000.9 465.9,2995.5 468.3,2998.8 470.6,2997.1 473,3000.1 475.2,3000.8 477.5,3003.3 479.7,3004.4 482,3003.8 484.2,3005.1 486.5,3004.4 488.7,3003.8 491,3005.5 493.2,3005 495.5,3004.8 497.8,3007.1 500.2,3009.5 502.7,3009.1 505.2,3009.5 507.7,3009 510.1,3013.1 512.6,3012.8 515.1,3010.5 517.6,3010.4 520,3011.8 522.5,3012.2 525,3013.3 527.5,3010.1 529.7,3011.8 532,3013.3 534.2,3013.4 536.5,3012.5 538.8,3012.8 541,3011.8 543.4,3009.5 545.7,3010.6 548.1,3009.7 550.4,3014.9 552.7,3014.3 555.1,3014 557.4,3012.2 559.8,3013 562.1,3014 564.4,3012.5 566.7,3015.5 568.9,3017.9 571.2,3014.5 573.5,3013.4 575.8,3014.5 578.1,3015.9 580.3,3019.3 582.6,3019.1 584.9,3017.8 587.1,3017.6 589.4,3015.7 591.6,3015.7 593.9,3016 596.1,3019.3 598.4,3017.7 600.6,3020.4 602.8,3020 605.1,3017.8 607.3,3020.1 609.6,3019.1 611.8,3021.6 614.1,3018.7 616.3,3019.3 618.5,3022.3 620.8,3022.8 623,3021.9 625.3,3024.1 627.8,3020.3 630.3,3019 632.8,3018.9 635.3,3025.5 637.8,3026.8 640.3,3028 642.6,3030.7 644.9,3031.3 647.2,3029.2 649.4,3031.1 651.7,3029.9 654,3032.5 656.3,3033.1 658.5,3030.2 660.8,3030.2 663.1,3033 665.6,3030.4 668.2,3030.9 670.7,3029.2 672,3005.1 674.5,3001.3 677,2998.7 679.5,3000.3 682.1,3007.9 684.6,3011.5 687.2,3014 690.3,3011.9 693.5,3010.2 695.7,3008.9 698,3013.3 700.2,3012.4 702.4,3011.1 704.7,3012.9 706.9,3014.9 709.1,3016.8 711.4,3015.8 713.6,3016.5 716.2,3021.6 718.7,3025.4 721,3024.5 723.2,3024.9 725.5,3027.9 727.7,3026.1 730,3025.2 732.2,3027.5 734.4,3025.9 736.7,3026.5 738.9,3028 741.5,3029.3 744,3031.4 746.5,3033.1 749,3034.9 751.5,3035.6 753.8,3036 756,3035.3 758.2,3038.6 760.5,3036.7 762.7,3039 765,3039.4 767.2,3041.2 769.5,3042 771.7,3041.9 774.3,3042.6 776.8,3045.7 779.4,3047.4 781.9,3048.3 784.4,3048.9 786.9,3048.3 789.3,3051.7 791.8,3050.9 794.4,3050 796.9,3046.8 799.5,3046.1 802,3045.7 804.2,3048.5 806.4,3047.1 808.7,3048.7 810.9,3051.2 813.1,3052.4 815.3,3052.9 817.5,3054.4 819.7,3054.7 822.3,3053.6 824.8,3054.2 827.3,3055.9 829.6,3058.8 831.8,3059.7 834,3058.7 836.2,3060.2 838.4,3062.2 840.6,3065.8 842.8,3065.1 845,3067.3 847.2,3069 849.4,3070.9 851.7,3071.1 853.9,3073.1 856.1,3072.3 858.4,3073.1 860.6,3073.8 862.8,3077.1 865.1,3077.5 867.3,3077.3 869.5,3080.8 871.8,3081 874,3080.4 876.2,3083.2 878.4,3082.3 880.7,3084.3 882.9,3085.2 885.4,3085.8 887.9,3089.5 890.4,3091.6 893,3093.4 895.5,3094 898,3093.1 900.5,3095.8 903,3095.4 905.6,3096.6 908.1,3096.1 910.6,3096.5 913.1,3095.4 915.7,3093.8 918.2,3092.9 920.7,3089.5 923.2,3088 925.8,3087.7 927.9,3087.7 930.1,3087 932.3,3087.2 934.5,3086.1 936.7,3087.9 938.8,3086 941,3087.2 943.4,3089.9 945.8,3091.8 948.2,3092.8 950.8,3092.3 953.3,3091 955.9,3091.6 958.4,3094.1 960.9,3095.1 963.4,3097.9 965.9,3098.5 968.5,3098.5 971,3101.4 973.5,3101.1 976.1,3101.7 978.6,3102.6 981.1,3103.3 983.6,3106.1 986.2,3107.7 988.7,3108.9 991.2,3109.4 993.7,3110 996.3,3112.2 998.8,3113.6 1001.3,3115.7 1003.8,3117.2 1006.4,3116.8 1008.9,3118.8 1011.4,3119.5 1013.6,3121.5 1015.9,3121.8 1018.1,3121 1020.4,3122 1022.6,3122.9 1024.9,3125 1027.1,3125.7 1029.4,3126.3 1031.6,3127.1 1034.1,3127.5 1036.6,3127.8 1039.2,3128.6 1041.7,3129.2 1044.2,3130.2 1046.7,3129.7 1049.3,3128.1 1051.8,3126.1 1054.3,3123.3 1056.8,3122.1 1059.4,3119.8 1061.9,3117 1064.1,3118 1066.3,3117.3 1068.5,3119.2 1070.8,3120.2 1073,3120 1075.2,3121.5 1077.4,3120.8 1079.6,3122 1082.1,3124.5 1084.7,3125.1 1087.2,3127.2 1089.7,3128.4 1092.2,3128.4 1094.8,3128.9 1097.3,3129.4 1099.8,3129.8 1102.3,3129.7 1104.9,3130.9 1107.4,3132.5 1109.9,3135.2 1112.4,3136 1114.9,3135.8 1117.4,3135.9 1120,3135.2 1122.5,3134.9 1125,3134.8 1127.5,3133.5 1130.1,3135.2 1132.6,3135.7 1135.1,3136.9 1137.7,3138.4 1140.2,3139.9 1142.7,3140 1145.3,3141.3 1147.8,3143.3 1150.3,3143.7 1152.8,3144.6 1155.4,3144 1157.9,3145 1160.4,3145.3 1162.9,3145.8 1165.5,3145.4 1168,3146.9 1170.5,3147.5 1173,3147.9 1175.6,3149.5 1178.1,3150.1 1180.6,3149.5 1183.1,3150.1 1185.7,3150 1186.9,3122 1188.1,3041.9 1190.7,3058.5 1193.2,3062.1 1195.7,3066.2 1198.3,3070.6 1200.8,3073.8 1203.3,3081.4 1205.5,3081.8 1207.6,3083.3 1209.8,3084.3 1212,3085.1 1214.2,3086.5 1216.3,3086.7 1218.5,3087.8 1221,3089.8 1223.6,3091 1226.1,3092.8 1228.6,3093.1 1231.1,3094.8 1233.7,3096.6 1236.2,3100.8 1238.7,3105.5 1241.2,3106.3 1243.7,3105.4 1246.3,3106 1248.8,3106.8 1251.3,3106.8 1253.8,3110.3 1256.3,3112.1 1258.9,3115.3 1261.4,3118.3 1264.6,3115.3 1267.7,3111.9 1270.9,3115.3 1274.1,3118.3 1276.6,3119.2 1279.1,3119.8 1281.6,3119.9 1284.2,3120.5 1286.7,3120.9 1289.2,3122 1291.7,3124 1294.2,3125.3 1296.8,3127.1 1299.3,3129.6 1301.8,3130.9 1304.3,3133 1306.9,3134.9 1309.4,3136.8 1311.9,3136.4 1314.5,3135.9 1317,3135.5 1319.5,3134.8 1322,3137.1 1324.6,3139.4 1327.1,3142.4 1329.6,3144.1 1332.1,3146.2 1334.7,3148.7 1337.1,3148 1339.6,3147.2 1342,3146.5 1344.5,3146.2 1347,3147.2 1349.5,3148.5 1352,3149.2 1354.6,3150 1357.1,3150.8 1359.6,3152.1 1362.1,3152.6 1364.7,3153.8 1366.9,3153.7 1369.1,3154.1 1371.4,3154.4 1373.6,3154.9 1375.9,3154.9 1378.1,3155.4 1380.4,3155.1 1382.6,3156 1384.8,3155.9 1387.4,3155.3 1389.9,3155.1 1392.4,3154 1394.9,3153.8 1397.5,3155.3 1400,3156.2 1402.5,3157.9 1405,3159.1 1407.6,3160.3 1410.1,3161.5 1412.6,3160.9 1415.2,3160.3 1417.7,3160.2 1420.2,3161.9 1422.8,3164.3 1425.3,3165.7 1427.8,3167.9 1430.3,3167.5 1432.8,3166.9 1435.4,3166.4 1437.9,3165.6 1440.4,3165.3 1442.9,3165.7 1445.5,3166.3 1448,3167.6 1450.5,3167.8 1453.1,3168.6 1455.6,3167.8 1458.1,3167 1460.6,3165.9 1463.2,3165.3 1465.7,3166.5 1468.2,3168 1470.8,3170.1 1473.3,3171.2 1475.8,3172.9 1478.4,3173.6 1480.9,3173.5 1483.4,3174.1 1485.9,3174.2 1488.4,3172.7 1491,3171.8 1493.5,3170.4 1495.7,3171 1497.9,3171.9 1500.1,3172.8 1502.3,3173.3 1504.5,3174.2 1506.8,3175.3 1509,3175.8 1511.2,3176.7 1513.7,3178.3 1516.2,3180.3 1518.7,3181.8 1521.2,3181.4 1523.8,3181.2 1526.3,3181 1528.8,3180.9 1531.3,3180.6 1533.9,3180.5 1536.4,3181.3 1538.9,3181.8 1541.4,3182.7 1544,3183.1 1546.5,3183.8 1549,3185.2 1551.6,3186.4 1554.1,3187 1556.6,3188.2 1559.1,3187 1561.6,3186.4 1564.1,3185.6 1566.7,3186.6 1569.2,3188.2 1571.8,3189.5 1573.1,3118.3 1576.8,3146.2 1579.3,3154 1581.9,3161.5 1584.4,3162.2 1586.9,3163.1 1589.4,3164.3 1592,3165.3 1594.5,3167.6 1597.1,3170.2 1599.6,3172.9 1602.1,3172.6 1604.6,3172.2 1607.1,3171.9 1609.7,3171.8 1612.2,3171.6 1614.7,3172.1 1617.2,3173 1619.8,3173.2 1622.3,3173.4 1624.8,3174.2 1627.4,3176.1 1629.9,3178.5 1632.4,3180.4 1634.9,3182.6 1637.4,3184.4 1639.9,3184.4 1642.5,3184 1645,3183.2 1647.5,3183.1 1650.1,3185.5 1652.6,3187.4 1655.1,3189.5 1657.6,3190.6 1660.2,3191.8 1662.7,3193.5 1665.2,3194.3 1667.7,3195.8 1670.2,3195.7 1672.8,3196.1 1675.3,3196.8 1677.8,3196.8 1680.4,3197.1 1682.9,3198.5 1685.4,3199.3 1687.9,3200.8 1690.4,3202 1693,3203.4 1695.5,3202.2 1698,3201.5 1700.6,3200.3 1703.1,3199.1 1705.6,3198.3 1708.2,3196.4 1710.7,3193.9 1713.2,3191.5 1715.7,3189.5 1718.3,3190.4 1720.8,3192.1 1723.3,3193.3 1725.8,3193.8 1728.3,3194 1730.7,3194.8 1733.2,3195.4 1735.7,3197 1738.2,3198.5 1740.7,3199.8 1743.2,3201.5 1745.7,3203 1748.2,3203.1 1750.8,3203.1 1753.3,3202.8 1755.8,3203 1758.4,3204.5 1760.9,3205.8 1763.4,3206.8 1766,3205.7 1768.5,3204.3 1771,3206.1 1773.5,3207.4 1776.1,3209.3 1778.6,3210.6 1781.1,3210.2 1783.6,3210 1786.2,3210.1 1788.7,3210.1 1791.2,3209.3 1793.7,3209.4 1796.3,3210.2 1798.8,3211 1801.3,3212.2 1803.8,3213.2 1806.4,3213.3 1808.9,3213.7 1811.4,3214.4 1813.9,3214.7 1816.4,3215 1818.9,3215.1 1821.5,3214.6 1824,3214.6 1826.5,3214 1829,3214.4 1831.6,3214 1834.1,3212.7 1836.6,3211.7 1839.2,3210.6 1841.2,3122.9 1844.2,3148.3 1846.8,3157.3 1849.3,3152.8 1851.9,3148.3 1853,3161.1 1855.3,3163.3 1857.5,3164.9 1859.7,3167.1 1862,3168.7 1864.5,3170.7 1867,3172.3 1869.5,3174.6 1872.1,3176.3 1874.6,3176.8 1877.1,3177.9 1879.6,3178.2 1882.2,3178.8 1884.7,3178.4 1887.2,3178.5 1889.7,3177.8 1892.3,3177.6 1894.8,3179 1897.3,3180.4 1899.8,3182.1 1902.4,3183.4 1904.9,3184.5 1907.4,3186.2 1909.9,3187.5 1912.4,3189.1 1915,3191 1917.5,3192.2 1920,3194.2 1922.5,3194 1925,3193.5 1927.6,3193.4 1930.1,3193.2 1932.6,3192.9 1935.2,3194.1 1937.7,3194.8 1940.2,3195.9 1942.7,3196.9 1945.3,3198.5 1947.8,3199.2 1950.3,3198.4 1952.8,3197.7 1955.4,3197.3 1957.9,3196.7 1960.4,3198.3 1962.9,3200.1 1965.5,3201.2 1968,3203 1970.5,3203.5 1973.1,3204.2 1975.6,3205 1978.1,3204 1980.6,3202.9 1983.2,3201.8 1985.7,3201 1988.2,3199.7 1990.7,3200.8 1993.2,3201.9 1995.8,3203 1998.3,3203.7 2000.8,3204.5 2003.4,3205.7 2005.9,3206.3 2008.4,3207 2011,3208.1 2013.5,3208.9 2016,3208.9 2018.5,3209.3 2021,3210 2023.5,3210.6 2026.1,3210.8 2028.6,3211.5 2031.1,3211.7 2033.6,3211.8 2036.2,3212.1 2038.7,3212.4 2040.9,3212.8 2043.1,3213 2045.3,3213.1 2047.5,3213.2 2049.8,3213.2 2052,3213.4 2054.2,3213.9 2056.4,3214 2058.9,3215.4 2061.5,3217 2064,3218.4 2066.5,3219.6 2068.7,3220.5 2070.9,3220.7 2073.1,3221.2 2075.3,3222.3 2077.5,3222.8 2079.7,3223.2 2081.9,3224.1 2084.1,3224.6 2086.7,3223.5 2089.2,3222.4 2091.7,3221.6 2094.9,3222.4 2098.1,3223.4" fill="none" stroke="#c00000" stroke-width="6.5" stroke-linecap="round" stroke-linejoin="round"/>
<polyline points="461.1,2997.3 463.5,2998.9 465.9,2995.5 468.3,3000.5 470.6,3000.3 473,2999.9 475.2,3002.2 477.5,3004 479.7,3000 482,3003.9 484.2,3006.2 486.5,3006.7 488.7,3006.7 491,3004.1 493.2,3009.3 495.5,3008.5 497.8,3005.4 500.2,3007.6 502.7,3011.8 505.2,3008.1 507.7,3010.3 510.1,3014.6 512.6,3015.2 515.1,3010.7 517.6,3013.3 520,3010.6 522.5,3011.9 525,3012.1 527.5,3007.8 529.7,3008.7 532,3008.9 534.2,3009.5 536.5,3008.5 538.8,3009.3 541,3011.2 543.4,3011.6 545.7,3009.8 548.1,3013 550.4,3015.3 552.7,3013.5 555.1,3012.5 557.4,3014.7 559.8,3013.4 562.1,3012.2 564.4,3014.3 566.7,3012.1 568.9,3016.2 571.2,3013.7 573.5,3015.2 575.8,3018.9 578.1,3018.2 580.3,3018.9 582.6,3018.2 584.9,3018.6 587.1,3018.9 589.4,3020.3 591.6,3016.2 593.9,3019.3 596.1,3016.8 598.4,3016.5 600.6,3019.5 602.8,3018.4 605.1,3019.7 607.3,3020.5 609.6,3019.7 611.8,3018.4 614.1,3018.1 616.3,3021.5 618.5,3023.2 620.8,3021.6 623,3021.2 625.3,3021.6 627.8,3019.9 630.3,3020 632.8,3018.8 635.3,3022.2 637.8,3024.6 640.3,3029 642.6,3030.9 644.9,3026.7 647.2,3027.6 649.4,3032.1 651.7,3032.7 654,3029.3 656.3,3030.7 658.5,3032.1 660.8,3031.6 663.1,3032.6 665.6,3031.6 668.2,3029.3 670.7,3027.1 672,3003.2 674.5,3000.3 677,2996.8 679.5,3003.1 682.1,3007.3 684.6,3009.1 687.2,3015.4 690.3,3013.1 693.5,3009.5 695.7,3010.8 698,3010.2 700.2,3014.2 702.4,3013.3 704.7,3011.8 706.9,3012.9 709.1,3015.9 711.4,3015.3 713.6,3017.5 716.2,3019.8 718.7,3026.7 721,3027 723.2,3024.3 725.5,3026.6 727.7,3025.3 730,3027.7 732.2,3028.4 734.4,3028.6 736.7,3026.6 738.9,3026.4 741.5,3030.2 744,3031.3 746.5,3031.1 749,3032.9 751.5,3035.9 753.8,3034.8 756,3037.5 758.2,3036.7 760.5,3037.5 762.7,3038.8 765,3039.9 767.2,3041.4 769.5,3039.5 771.7,3042.8 774.3,3042.5 776.8,3044.4 779.4,3047.2 781.9,3049 784.4,3049.4 786.9,3051 789.3,3049.2 791.8,3050.2 794.4,3050.2 796.9,3047.5 799.5,3045.8 802,3044.8 804.2,3047.8 806.4,3049.1 808.7,3049.8 810.9,3051.7 813.1,3052.3 815.3,3051.8 817.5,3053 819.7,3055.4 822.3,3053.7 824.8,3055.8 827.3,3054.6 829.6,3055.9 831.8,3058.8 834,3059.1 836.2,3063 838.4,3064.2 840.6,3064.4 842.8,3065 845,3066.2 847.2,3068.5 849.4,3069.7 851.7,3070.3 853.9,3072.5 856.1,3073.1 858.4,3074.9 860.6,3074.1 862.8,3075.1 865.1,3077.2 867.3,3078.4 869.5,3078.7 871.8,3080.9 874,3080.5 876.2,3081.8 878.4,3083.2 880.7,3084.8 882.9,3085.9 885.4,3086.6 887.9,3088.6 890.4,3091.7 893,3093.5 895.5,3094.4 898,3093.4 900.5,3094.8 903,3095.7 905.6,3095.1 908.1,3094.9 910.6,3097.8 913.1,3096.2 915.7,3092.6 918.2,3092 920.7,3090.9 923.2,3088.6 925.8,3086.5 927.9,3088.3 930.1,3088.2 932.3,3087.3 934.5,3086.3 936.7,3087 938.8,3086.2 941,3088.4 943.4,3087.9 945.8,3090.4 948.2,3093.5 950.8,3091.5 953.3,3091 955.9,3090.5 958.4,3092.8 960.9,3095.9 963.4,3098.8 965.9,3097.9 968.5,3098.6 971,3100.8 973.5,3100.8 976.1,3101.3 978.6,3102.1 981.1,3103.7 983.6,3106.7 986.2,3105.9 988.7,3107.5 991.2,3109.9 993.7,3111.9 996.3,3113.5 998.8,3114 1001.3,3116.7 1003.8,3116.9 1006.4,3117.1 1008.9,3118.5 1011.4,3120 1013.6,3120.9 1015.9,3120.4 1018.1,3121.4 1020.4,3123.9 1022.6,3122.9 1024.9,3125.3 1027.1,3125.1 1029.4,3125.7 1031.6,3126.6 1034.1,3127.5 1036.6,3129 1039.2,3127.7 1041.7,3129.6 1044.2,3128.9 1046.7,3129 1049.3,3128.1 1051.8,3125.1 1054.3,3122.7 1056.8,3121 1059.4,3119.7 1061.9,3117.7 1064.1,3117.7 1066.3,3117.3 1068.5,3119.4 1070.8,3119.7 1073,3120.9 1075.2,3121.7 1077.4,3121.1 1079.6,3122.7 1082.1,3124.2 1084.7,3124.8 1087.2,3126.6 1089.7,3128.2 1092.2,3128.6 1094.8,3129 1097.3,3128.9 1099.8,3129.6 1102.3,3131.2 1104.9,3130.7 1107.4,3132.8 1109.9,3135 1112.4,3136.4 1114.9,3135.1 1117.4,3135.9 1120,3135.3 1122.5,3135.2 1125,3134.3 1127.5,3133.9 1130.1,3135.3 1132.6,3135.6 1135.1,3137.6 1137.7,3138.4 1140.2,3140.4 1142.7,3140.2 1145.3,3141.8 1147.8,3142.4 1150.3,3144.2 1152.8,3143.7 1155.4,3144.8 1157.9,3145.1 1160.4,3145.4 1162.9,3144.6 1165.5,3146.1 1168,3146.8 1170.5,3147.8 1173,3148.7 1175.6,3148.9 1178.1,3150.2 1180.6,3149.9 1183.1,3149.8 1185.7,3149.8 1186.9,3122.4 1188.1,3042.4 1190.7,3059 1193.2,3061.9 1195.7,3065.9 1198.3,3069.6 1200.8,3073.3 1203.3,3081.2 1205.5,3081.6 1207.6,3083.6 1209.8,3083.8 1212,3084.5 1214.2,3085.4 1216.3,3087.2 1218.5,3087.4 1221,3089.2 1223.6,3090.6 1226.1,3092.6 1228.6,3094.3 1231.1,3094.9 1233.7,3096.8 1236.2,3101.6 1238.7,3105.5 1241.2,3106.3 1243.7,3106.3 1246.3,3106 1248.8,3107 1251.3,3106.9 1253.8,3109.2 1256.3,3112.6 1258.9,3115.8 1261.4,3118.3 1264.6,3115 1267.7,3111.8 1270.9,3115.5 1274.1,3118.4 1276.6,3118.6 1279.1,3119.4 1281.6,3120 1284.2,3121.3 1286.7,3121.6 1289.2,3121.6 1291.7,3124.3 1294.2,3125.1 1296.8,3127.5 1299.3,3129.1 1301.8,3131.1 1304.3,3132.8 1306.9,3134.4 1309.4,3136.8 1311.9,3136.6 1314.5,3136.1 1317,3135.1 1319.5,3134.5 1322,3137.5 1324.6,3140.1 1327.1,3142.1 1329.6,3144.8 1332.1,3147.1 1334.7,3148.7 1337.1,3148 1339.6,3147.7 1342,3147.2 1344.5,3146 1347,3147 1349.5,3148 1352,3149.3 1354.6,3149.8 1357.1,3151 1359.6,3151.9 1362.1,3153 1364.7,3153.5 1366.9,3154.4 1369.1,3154.7 1371.4,3154.6 1373.6,3155 1375.9,3154.7 1378.1,3155.5 1380.4,3155.5 1382.6,3155.9 1384.8,3156.2 1387.4,3155.3 1389.9,3155.2 1392.4,3154.1 1394.9,3153.5 1397.5,3155.1 1400,3156.7 1402.5,3157.9 1405,3159.2 1407.6,3160.2 1410.1,3161.8 1412.6,3161.1 1415.2,3160.4 1417.7,3160.3 1420.2,3162.3 1422.8,3164 1425.3,3166 1427.8,3167.7 1430.3,3167.2 1432.8,3166.8 1435.4,3166.3 1437.9,3165.8 1440.4,3165 1442.9,3165.6 1445.5,3166.5 1448,3167.4 1450.5,3168.1 1453.1,3168.4 1455.6,3167.6 1458.1,3166.9 1460.6,3165.9 1463.2,3165.3 1465.7,3167.1 1468.2,3168.1 1470.8,3169.9 1473.3,3171.6 1475.8,3173.1 1478.4,3173.4 1480.9,3173.7 1483.4,3173.8 1485.9,3174.5 1488.4,3173.2 1491,3171.3 1493.5,3170.7 1495.7,3171.1 1497.9,3171.7 1500.1,3172.5 1502.3,3173.7 1504.5,3174.5 1506.8,3174.9 1509,3175.9 1511.2,3176.8 1513.7,3178.8 1516.2,3180 1518.7,3182 1521.2,3181.4 1523.8,3181.2 1526.3,3180.9 1528.8,3180.9 1531.3,3180.8 1533.9,3180.4 1536.4,3180.9 1538.9,3181.6 1541.4,3182.2 1544,3182.9 1546.5,3184 1549,3185.1 1551.6,3185.9 1554.1,3187.2 1556.6,3188.1 1559.1,3187.6 1561.6,3186.5 1564.1,3185.9 1566.7,3186.9 1569.2,3188 1571.8,3189.5 1573.1,3118 1576.8,3146 1579.3,3153.6 1581.9,3161.6 1584.4,3162.7 1586.9,3163.3 1589.4,3164.2 1592,3165.2 1594.5,3167.7 1597.1,3170.5 1599.6,3172.9 1602.1,3172.5 1604.6,3172.7 1607.1,3172.2 1609.7,3171.6 1612.2,3171.9 1614.7,3172.3 1617.2,3172.6 1619.8,3173.3 1622.3,3174 1624.8,3174.2 1627.4,3176.2 1629.9,3178.2 1632.4,3180.4 1634.9,3182.5 1637.4,3184.6 1639.9,3184.4 1642.5,3183.5 1645,3183.3 1647.5,3183.3 1650.1,3185.4 1652.6,3187.4 1655.1,3189.6 1657.6,3190.6 1660.2,3192.3 1662.7,3193.3 1665.2,3194.4 1667.7,3195.6 1670.2,3195.8 1672.8,3196.5 1675.3,3196.7 1677.8,3196.5 1680.4,3196.9 1682.9,3198.3 1685.4,3199.6 1687.9,3200.8 1690.4,3202.4 1693,3203.3 1695.5,3202.4 1698,3201.7 1700.6,3200.5 1703.1,3199.3 1705.6,3198.2 1708.2,3196.1 1710.7,3194 1713.2,3191.9 1715.7,3189.3 1718.3,3190.7 1720.8,3191.9 1723.3,3193.2 1725.8,3194.1 1728.3,3194.3 1730.7,3194.7 1733.2,3195.3 1735.7,3197.1 1738.2,3198.2 1740.7,3200.1 1743.2,3201.2 1745.7,3202.8 1748.2,3202.8 1750.8,3203.2 1753.3,3202.8 1755.8,3202.9 1758.4,3204 1760.9,3205.4 1763.4,3207 1766,3205.7 1768.5,3204.6 1771,3206.2 1773.5,3207.5 1776.1,3209.3 1778.6,3210.3 1781.1,3210.7 1783.6,3210.2 1786.2,3209.8 1788.7,3210 1791.2,3209.8 1793.7,3209.3 1796.3,3210.1 1798.8,3211.5 1801.3,3212.4 1803.8,3213.3 1806.4,3213.8 1808.9,3213.6 1811.4,3214 1813.9,3214.4 1816.4,3214.7 1818.9,3214.9 1821.5,3214.7 1824,3214.2 1826.5,3214.1 1829,3214 1831.6,3214.1 1834.1,3213 1836.6,3212 1839.2,3210.5 1841.2,3123.2 1844.2,3148.3 1846.8,3157.2 1849.3,3152.7 1851.9,3148.2 1853,3161.4 1855.3,3163.3 1857.5,3165 1859.7,3166.6 1862,3168.5 1864.5,3170.4 1867,3172.4 1869.5,3174.6 1872.1,3176.1 1874.6,3177 1877.1,3177.7 1879.6,3177.9 1882.2,3178.8 1884.7,3178.7 1887.2,3178.3 1889.7,3177.9 1892.3,3177.9 1894.8,3179.1 1897.3,3180.4 1899.8,3181.9 1902.4,3183.7 1904.9,3185 1907.4,3186.5 1909.9,3187.7 1912.4,3188.9 1915,3190.6 1917.5,3192.4 1920,3194.3 1922.5,3193.6 1925,3193.8 1927.6,3193.6 1930.1,3193.1 1932.6,3192.6 1935.2,3194.1 1937.7,3194.9 1940.2,3196.2 1942.7,3197.2 1945.3,3198.3 1947.8,3199.2 1950.3,3198.9 1952.8,3198.2 1955.4,3197.6 1957.9,3196.7 1960.4,3198.1 1962.9,3199.8 1965.5,3201.3 1968,3203.3 1970.5,3203.9 1973.1,3204.5 1975.6,3205.2 1978.1,3204.3 1980.6,3203 1983.2,3201.7 1985.7,3201 1988.2,3199.6 1990.7,3200.8 1993.2,3201.5 1995.8,3202.9 1998.3,3203.7 2000.8,3204.5 2003.4,3205.7 2005.9,3206.1 2008.4,3207.5 2011,3208.3 2013.5,3208.4 2016,3209.3 2018.5,3209.6 2021,3210.3 2023.5,3210.7 2026.1,3210.9 2028.6,3211.5 2031.1,3211.3 2033.6,3212 2036.2,3211.9 2038.7,3212.3 2040.9,3212.4 2043.1,3213 2045.3,3213 2047.5,3213.3 2049.8,3213.3 2052,3213.7 2054.2,3213.9 2056.4,3213.8 2058.9,3215.4 2061.5,3216.9 2064,3218 2066.5,3219.7 2068.7,3220.1 2070.9,3220.8 2073.1,3221.7 2075.3,3222.4 2077.5,3223 2079.7,3223.3 2081.9,3224.1 2084.1,3224.8 2086.7,3223.8 2089.2,3222.6 2091.7,3221.8 2094.9,3222.4 2098.1,3223.6" fill="none" stroke="#c00000" stroke-width="6.5" stroke-linecap="round" stroke-linejoin="round"/>
<polyline points="461.1,2996.9 463.5,2995.2 465.9,2999.9 468.3,2996.6 470.6,3000.7 473,2997.2 475.2,3004.2 477.5,3002.4 479.7,3004.6 482,3001.7 484.2,3006 486.5,3004.6 488.7,3004.2 491,3008.1 493.2,3003.5 495.5,3006.6 497.8,3004.5 500.2,3010.2 502.7,3011.4 505.2,3007 507.7,3010.6 510.1,3011.6 512.6,3014.1 515.1,3013.7 517.6,3010.9 520,3014 522.5,3009.1 525,3008.3 527.5,3011.9 529.7,3008.1 532,3008.8 534.2,3010.9 536.5,3010.2 538.8,3009.5 541,3014.3 543.4,3011.9 545.7,3013.9 548.1,3011.1 550.4,3015.1 552.7,3011.4 555.1,3015.6 557.4,3014.2 559.8,3016.5 562.1,3015.6 564.4,3015.2 566.7,3015 568.9,3017.2 571.2,3015.2 573.5,3013.7 575.8,3018.6 578.1,3018.4 580.3,3018.1 582.6,3018.8 584.9,3016.4 587.1,3017.6 589.4,3019.6 591.6,3020.3 593.9,3020.1 596.1,3016 598.4,3018.8 600.6,3018.1 602.8,3017.3 605.1,3016.1 607.3,3016.6 609.6,3019.1 611.8,3019.9 614.1,3019.4 616.3,3020.6 618.5,3022.3 620.8,3024 623,3023.9 625.3,3022.4 627.8,3023.5 630.3,3018.4 632.8,3023.6 635.3,3025.9 637.8,3024 640.3,3028.4 642.6,3030.8 644.9,3028.4 647.2,3029.7 649.4,3029.1 651.7,3028.2 654,3029.6 656.3,3029.7 658.5,3031 660.8,3033.1 663.1,3033.3 665.6,3033.8 668.2,3031.3 670.7,3028.6 672,3007.2 674.5,3002.5 677,2998.9 679.5,3004.2 682.1,3007.1 684.6,3009.6 687.2,3014.5 690.3,3011.2 693.5,3012.2 695.7,3009.7 698,3013.7 700.2,3010.4 702.4,3010.9 704.7,3013.9 706.9,3013.1 709.1,3015.2 711.4,3014.2 713.6,3018 716.2,3021.7 718.7,3026.2 721,3027.5 723.2,3028 725.5,3027 727.7,3027.4 730,3024.8 732.2,3025.3 734.4,3027.1 736.7,3029.6 738.9,3027.2 741.5,3029.8 744,3029.1 746.5,3032.2 749,3035.6 751.5,3035.9 753.8,3037.5 756,3035.1 758.2,3036.6 760.5,3037.2 762.7,3040.4 765,3038.3 767.2,3042.1 769.5,3040.4 771.7,3043.4 774.3,3043.6 776.8,3044.5 779.4,3048.4 781.9,3048 784.4,3049.7 786.9,3048.1 789.3,3051.4 791.8,3052.6 794.4,3048.3 796.9,3049.2 799.5,3046.2 802,3044.5 804.2,3046.4 806.4,3048.5 808.7,3050.6 810.9,3051.9 813.1,3053 815.3,3052.9 817.5,3054.1 819.7,3053.6 822.3,3055.8 824.8,3055.7 827.3,3055.4 829.6,3058.6 831.8,3058 834,3059.1 836.2,3060.6 838.4,3062 840.6,3064.8 842.8,3066.8 845,3066.3 847.2,3068.5 849.4,3069.8 851.7,3070.9 853.9,3071.6 856.1,3073.1 858.4,3072.7 860.6,3073.9 862.8,3076.2 865.1,3076.7 867.3,3079.2 869.5,3078.7 871.8,3081.3 874,3080.6 876.2,3081.1 878.4,3083.2 880.7,3083.9 882.9,3084.7 885.4,3087.7 887.9,3087.9 890.4,3091 893,3093.2 895.5,3093.9 898,3094.5 900.5,3096 903,3095.6 905.6,3094.8 908.1,3094.9 910.6,3095.4 913.1,3094.6 915.7,3092.5 918.2,3092.5 920.7,3090.4 923.2,3088.6 925.8,3087.7 927.9,3088.7 930.1,3086.9 932.3,3086.6 934.5,3086.9 936.7,3086.9 938.8,3088.3 941,3087.7 943.4,3088.9 945.8,3090.1 948.2,3091.7 950.8,3091.5 953.3,3092.9 955.9,3091.9 958.4,3092.8 960.9,3096.1 963.4,3096.8 965.9,3098.7 968.5,3099 971,3099.2 973.5,3101.5 976.1,3102.2 978.6,3103 981.1,3103.5 983.6,3106 986.2,3106.7 988.7,3108.5 991.2,3108.4 993.7,3111.9 996.3,3111.4 998.8,3113.5 1001.3,3115.4 1003.8,3115.9 1006.4,3116.7 1008.9,3119 1011.4,3120.7 1013.6,3120 1015.9,3120.7 1018.1,3122.4 1020.4,3122.3 1022.6,3123.5 1024.9,3125 1027.1,3125.3 1029.4,3125.5 1031.6,3126.2 1034.1,3127.6 1036.6,3129 1039.2,3129.3 1041.7,3128 1044.2,3129.3 1046.7,3129.7 1049.3,3126.9 1051.8,3125.8 1054.3,3123.3 1056.8,3121.8 1059.4,3118.7 1061.9,3117.8 1064.1,3118.2 1066.3,3118.2 1068.5,3118.2 1070.8,3119.5 1073,3119.4 1075.2,3121.1 1077.4,3121.8 1079.6,3122.2 1082.1,3124.5 1084.7,3124.4 1087.2,3127.2 1089.7,3129 1092.2,3128.1 1094.8,3128.9 1097.3,3128.8 1099.8,3130.2 1102.3,3130.9 1104.9,3130.6 1107.4,3133 1109.9,3134.1 1112.4,3136.4 1114.9,3135.2 1117.4,3136 1120,3134.6 1122.5,3133.5 1125,3133.2 1127.5,3133.9 1130.1,3135.4 1132.6,3136.3 1135.1,3136.7 1137.7,3139.2 1140.2,3140.2 1142.7,3140.2 1145.3,3141.6 1147.8,3143 1150.3,3142.9 1152.8,3143.2 1155.4,3144 1157.9,3145.1 1160.4,3145.6 1162.9,3144.9 1165.5,3146.1 1168,3146.9 1170.5,3148 1173,3148.6 1175.6,3150.2 1178.1,3149.9 1180.6,3150.4 1183.1,3150 1185.7,3149.6 1186.9,3122.1 1188.1,3041.9 1190.7,3058.2 1193.2,3062.1 1195.7,3066.2 1198.3,3070.1 1200.8,3073.4 1203.3,3081.1 1205.5,3082.3 1207.6,3083.2 1209.8,3084 1212,3085.3 1214.2,3085.5 1216.3,3086.9 1218.5,3087.5 1221,3089.6 1223.6,3091 1226.1,3092.6 1228.6,3093.7 1231.1,3094.8 1233.7,3097.2 1236.2,3101.1 1238.7,3105.3 1241.2,3105.5 1243.7,3105.9 1246.3,3106.5 1248.8,3106.9 1251.3,3106.8 1253.8,3109.9 1256.3,3112.2 1258.9,3115.3 1261.4,3118.1 1264.6,3114.8 1267.7,3111.7 1270.9,3115.4 1274.1,3118.5 1276.6,3118.6 1279.1,3119.2 1281.6,3120.5 1284.2,3120.9 1286.7,3121.6 1289.2,3122.2 1291.7,3124 1294.2,3125.3 1296.8,3126.9 1299.3,3129 1301.8,3130.4 1304.3,3133.3 1306.9,3134.8 1309.4,3137 1311.9,3136.7 1314.5,3136.1 1317,3135 1319.5,3134.6 1322,3136.9 1324.6,3140.1 1327.1,3142.6 1329.6,3144.5 1332.1,3146.5 1334.7,3148.5 1337.1,3148.1 1339.6,3147.7 1342,3147.2 1344.5,3146.6 1347,3147.5 1349.5,3148.1 1352,3149 1354.6,3149.9 1357.1,3151.4 1359.6,3151.7 1362.1,3152.6 1364.7,3153.6 1366.9,3154.4 1369.1,3154.6 1371.4,3154.4 1373.6,3155 1375.9,3155.3 1378.1,3155.2 1380.4,3155.2 1382.6,3155.9 1384.8,3155.8 1387.4,3155.1 1389.9,3155.1 1392.4,3154.3 1394.9,3153.7 1397.5,3155.2 1400,3156.2 1402.5,3157.3 1405,3158.9 1407.6,3160.1 1410.1,3161.1 1412.6,3161 1415.2,3160.8 1417.7,3160.1 1420.2,3162.2 1422.8,3164.1 1425.3,3165.7 1427.8,3167.5 1430.3,3167.5 1432.8,3166.9 1435.4,3166.2 1437.9,3165.6 1440.4,3165.5 1442.9,3166.2 1445.5,3166.4 1448,3167.3 1450.5,3168 1453.1,3168.4 1455.6,3167.4 1458.1,3166.8 1460.6,3166.2 1463.2,3165.3 1465.7,3166.8 1468.2,3168.1 1470.8,3169.7 1473.3,3171.3 1475.8,3172.9 1478.4,3173.2 1480.9,3173.9 1483.4,3173.7 1485.9,3174.6 1488.4,3172.8 1491,3171.9 1493.5,3170.2 1495.7,3171.2 1497.9,3171.9 1500.1,3172.4 1502.3,3173.7 1504.5,3174.6 1506.8,3175 1509,3176.1 1511.2,3176.7 1513.7,3178.8 1516.2,3179.8 1518.7,3181.7 1521.2,3181.4 1523.8,3181.5 1526.3,3181.4 1528.8,3181.2 1531.3,3180.8 1533.9,3180.4 1536.4,3181.4 1538.9,3181.5 1541.4,3182.3 1544,3183.3 1546.5,3184.1 1549,3185.5 1551.6,3185.9 1554.1,3187.1 1556.6,3188 1559.1,3187 1561.6,3186.2 1564.1,3185.3 1566.7,3186.8 1569.2,3188.1 1571.8,3189.5 1573.1,3118.1 1576.8,3146.4 1579.3,3153.9 1581.9,3161.8 1584.4,3162.2 1586.9,3163.4 1589.4,3164.3 1592,3165.2 1594.5,3168.1 1597.1,3170.2 1599.6,3173.2 1602.1,3172.6 1604.6,3172.3 1607.1,3172.2 1609.7,3172 1612.2,3171.5 1614.7,3171.9 1617.2,3173 1619.8,3173.1 1622.3,3173.5 1624.8,3174.3 1627.4,3176.3 1629.9,3178.2 1632.4,3180.2 1634.9,3182.6 1637.4,3184.3 1639.9,3184 1642.5,3184.1 1645,3183.3 1647.5,3183 1650.1,3185 1652.6,3187.5 1655.1,3189.6 1657.6,3190.7 1660.2,3191.9 1662.7,3193.1 1665.2,3194.7 1667.7,3195.7 1670.2,3196.2 1672.8,3196.2 1675.3,3196.7 1677.8,3196.5 1680.4,3196.9 1682.9,3198.6 1685.4,3199.7 1687.9,3201 1690.4,3202.2 1693,3203.4 1695.5,3202.2 1698,3201.2 1700.6,3200.5 1703.1,3199.5 1705.6,3198.2 1708.2,3196.2 1710.7,3193.7 1713.2,3191.8 1715.7,3189.3 1718.3,3190.8 1720.8,3191.9 1723.3,3193.3 1725.8,3193.6 1728.3,3194.3 1730.7,3194.9 1733.2,3195.1 1735.7,3196.8 1738.2,3198.5 1740.7,3200 1743.2,3201.6 1745.7,3203.2 1748.2,3203.1 1750.8,3202.9 1753.3,3203 1755.8,3203.2 1758.4,3204.3 1760.9,3205.7 1763.4,3206.7 1766,3205.5 1768.5,3204.6 1771,3206.1 1773.5,3207.6 1776.1,3208.8 1778.6,3210.7 1781.1,3210.1 1783.6,3210.5 1786.2,3210.3 1788.7,3209.9 1791.2,3209.5 1793.7,3209.6 1796.3,3210.2 1798.8,3211.5 1801.3,3212.3 1803.8,3212.9 1806.4,3213.8 1808.9,3213.9 1811.4,3214.5 1813.9,3214.7 1816.4,3215 1818.9,3215 1821.5,3214.5 1824,3214.7 1826.5,3214.2 1829,3213.9 1831.6,3213.9 1834.1,3212.6 1836.6,3211.5 1839.2,3210.7 1841.2,3122.7 1844.2,3148.1 1846.8,3157.2 1849.3,3152.7 1851.9,3148.6 1853,3161.3 1855.3,3163.2 1857.5,3165.2 1859.7,3166.7 1862,3168.8 1864.5,3170.4 1867,3172.8 1869.5,3174.6 1872.1,3176.5 1874.6,3176.8 1877.1,3177.3 1879.6,3178.5 1882.2,3178.9 1884.7,3178.6 1887.2,3178.4 1889.7,3177.7 1892.3,3177.7 1894.8,3179 1897.3,3180.7 1899.8,3181.9 1902.4,3183.2 1904.9,3185.1 1907.4,3186.1 1909.9,3187.8 1912.4,3189.3 1915,3190.6 1917.5,3192.6 1920,3194.1 1922.5,3193.7 1925,3193.5 1927.6,3193.7 1930.1,3193 1932.6,3192.9 1935.2,3193.9 1937.7,3194.7 1940.2,3196.2 1942.7,3197.3 1945.3,3198.4 1947.8,3199.2 1950.3,3198.4 1952.8,3197.9 1955.4,3197.4 1957.9,3196.7 1960.4,3198.2 1962.9,3199.9 1965.5,3201.2 1968,3203.3 1970.5,3203.7 1973.1,3204.4 1975.6,3205.2 1978.1,3203.8 1980.6,3203 1983.2,3201.8 1985.7,3201 1988.2,3199.5 1990.7,3200.6 1993.2,3201.8 1995.8,3202.7 1998.3,3203.7 2000.8,3204.7 2003.4,3205.3 2005.9,3206.3 2008.4,3206.9 2011,3208.3 2013.5,3208.5 2016,3209.3 2018.5,3209.6 2021,3210.2 2023.5,3210.7 2026.1,3210.7 2028.6,3211.4 2031.1,3211.4 2033.6,3212 2036.2,3212.3 2038.7,3212.5 2040.9,3212.8 2043.1,3212.8 2045.3,3213.1 2047.5,3213.5 2049.8,3213.2 2052,3213.4 2054.2,3213.7 2056.4,3214 2058.9,3215.2 2061.5,3216.6 2064,3218.4 2066.5,3219.5 2068.7,3220 2070.9,3220.7 2073.1,3221.5 2075.3,3221.9 2077.5,3222.7 2079.7,3223.4 2081.9,3224 2084.1,3224.7 2086.7,3223.8 2089.2,3222.3 2091.7,3221.8 2094.9,3222.3 2098.1,3223.1" fill="none" stroke="#c00000" stroke-width="6.5" stroke-linecap="round" stroke-linejoin="round"/>
</g>
<polyline points="404.4,3342.6 404.4,2981.5 573.9,2981.5 573.9,2708.9 743.4,2708.9 743.4,2789.2 912.9,2789.2 912.9,2882.3 1082.4,2882.3 1082.4,2902.2 1251.9,2902.2 1251.9,2945.4 1421.4,2945.4 1421.4,3010 1590.8,3010 1590.8,3042 1760.3,3042 1760.3,3049.1 1929.8,3049.1 1929.8,3078.1 2099.3,3078.1 2099.3,3342.6" fill="none" stroke="#000" stroke-width="7" stroke-linecap="butt" stroke-linejoin="round"/>
<polyline points="404.4,3342.6 404.4,3234.3 573.9,3234.3 573.9,3095.9 743.4,3095.9 743.4,3127.5 912.9,3127.5 912.9,3165.1 1082.4,3165.1 1082.4,3172.7 1251.9,3172.7 1251.9,3189 1421.4,3189 1421.4,3214.9 1590.8,3214.9 1590.8,3225.6 1760.3,3225.6 1760.3,3228.7 1929.8,3228.7 1929.8,3240.9 2099.3,3240.9 2099.3,3342.6" fill="none" stroke="#000" stroke-width="7" stroke-linecap="butt" stroke-linejoin="round"/>
<polyline points="401.4,3342.6 401.4,2997.8 570.9,2997.8 570.9,2784.2 740.4,2784.2 740.4,2854.3 909.9,2854.3 909.9,2938.3 1079.4,2938.3 1079.4,2955.6 1248.9,2955.6 1248.9,2992.7 1418.4,2992.7 1418.4,3049.1 1587.8,3049.1 1587.8,3077.6 1757.3,3077.6 1757.3,3084.2 1926.8,3084.2 1926.8,3110.7 2096.3,3110.7 2096.3,3342.6" fill="none" stroke="#000" stroke-width="7" stroke-linecap="round" stroke-linejoin="round" stroke-dasharray="19 36.30" stroke-dashoffset="-16.5"/>
<polyline points="401.4,3342.6 401.4,3230.2 570.9,3230.2 570.9,3062.9 740.4,3062.9 740.4,3098 909.9,3098 909.9,3139.2 1079.4,3139.2 1079.4,3148.3 1248.9,3148.3 1248.9,3167.1 1418.4,3167.1 1418.4,3195.1 1587.8,3195.1 1587.8,3209.9 1757.3,3209.9 1757.3,3212.9 1926.8,3212.9 1926.8,3225.6 2096.3,3225.6 2096.3,3342.6" fill="none" stroke="#000" stroke-width="7" stroke-linecap="round" stroke-linejoin="round" stroke-dasharray="19 36.30" stroke-dashoffset="-16.5"/>
<text x="186.4" y="972.4" font-size="85" fill="#000" font-family='"Liberation Serif", serif'>0</text>
<text x="2291.5" y="972.4" font-size="85" fill="#000" font-family='"Liberation Serif", serif'>0</text>
<text x="143.9" y="819.3" font-size="85" fill="#000" font-family='"Liberation Serif", serif'>30</text>
<text x="2291.5" y="819.1" font-size="85" fill="#000" font-family='"Liberation Serif", serif'>3</text>
<text x="143.9" y="666.1" font-size="85" fill="#000" font-family='"Liberation Serif", serif'>60</text>
<text x="2291.5" y="666" font-size="85" fill="#000" font-family='"Liberation Serif", serif'>6</text>
<text x="143.9" y="513" font-size="85" fill="#000" font-family='"Liberation Serif", serif'>90</text>
<text x="2291.5" y="512.8" font-size="85" fill="#000" font-family='"Liberation Serif", serif'>9</text>
<text x="101.4" y="359.8" font-size="85" fill="#000" font-family='"Liberation Serif", serif'>120</text>
<text x="2294.5" y="360.1" font-size="85" fill="#000" font-family='"Liberation Serif", serif'>12</text>
<text x="101.4" y="206.6" font-size="85" fill="#000" font-family='"Liberation Serif", serif'>150</text>
<text x="2294.5" y="206.4" font-size="85" fill="#000" font-family='"Liberation Serif", serif'>15</text>
<text x="278.8" y="1071.1" font-size="85" fill="#000" font-family='"Liberation Serif", serif'>0</text>
<text x="531" y="1071.1" font-size="85" fill="#000" font-family='"Liberation Serif", serif'>50</text>
<text x="782.8" y="1071.1" font-size="85" fill="#000" font-family='"Liberation Serif", serif'>100</text>
<text x="1057.2" y="1071.1" font-size="85" fill="#000" font-family='"Liberation Serif", serif'>150</text>
<text x="1333.4" y="1071.1" font-size="85" fill="#000" font-family='"Liberation Serif", serif'>200</text>
<text x="1607.8" y="1071.1" font-size="85" fill="#000" font-family='"Liberation Serif", serif'>250</text>
<text x="1882" y="1071.1" font-size="85" fill="#000" font-family='"Liberation Serif", serif'>300</text>
<text x="2156.3" y="1071.1" font-size="85" fill="#000" font-family='"Liberation Serif", serif'>350</text>
<text x="181.7" y="2174.9" font-size="85" fill="#000" font-family='"Liberation Serif", serif'>0</text>
<text x="2280.7" y="2174.9" font-size="85" fill="#000" font-family='"Liberation Serif", serif'>0</text>
<text x="139.2" y="2022.9" font-size="85" fill="#000" font-family='"Liberation Serif", serif'>30</text>
<text x="2280.7" y="2022.8" font-size="85" fill="#000" font-family='"Liberation Serif", serif'>3</text>
<text x="139.2" y="1870.8" font-size="85" fill="#000" font-family='"Liberation Serif", serif'>60</text>
<text x="2280.7" y="1870.7" font-size="85" fill="#000" font-family='"Liberation Serif", serif'>6</text>
<text x="139.2" y="1718.8" font-size="85" fill="#000" font-family='"Liberation Serif", serif'>90</text>
<text x="2280.7" y="1718.6" font-size="85" fill="#000" font-family='"Liberation Serif", serif'>9</text>
<text x="96.7" y="1566.7" font-size="85" fill="#000" font-family='"Liberation Serif", serif'>120</text>
<text x="2283.7" y="1567" font-size="85" fill="#000" font-family='"Liberation Serif", serif'>12</text>
<text x="96.7" y="1414.6" font-size="85" fill="#000" font-family='"Liberation Serif", serif'>150</text>
<text x="2283.7" y="1414.4" font-size="85" fill="#000" font-family='"Liberation Serif", serif'>15</text>
<text x="274.1" y="2273.6" font-size="85" fill="#000" font-family='"Liberation Serif", serif'>0</text>
<text x="525.4" y="2273.6" font-size="85" fill="#000" font-family='"Liberation Serif", serif'>50</text>
<text x="776.4" y="2273.6" font-size="85" fill="#000" font-family='"Liberation Serif", serif'>100</text>
<text x="1049.9" y="2273.6" font-size="85" fill="#000" font-family='"Liberation Serif", serif'>150</text>
<text x="1325.2" y="2273.6" font-size="85" fill="#000" font-family='"Liberation Serif", serif'>200</text>
<text x="1598.7" y="2273.6" font-size="85" fill="#000" font-family='"Liberation Serif", serif'>250</text>
<text x="1872" y="2273.6" font-size="85" fill="#000" font-family='"Liberation Serif", serif'>300</text>
<text x="2145.5" y="2273.6" font-size="85" fill="#000" font-family='"Liberation Serif", serif'>350</text>
<text x="191.1" y="3368.2" font-size="85" fill="#000" font-family='"Liberation Serif", serif'>0</text>
<text x="2277.1" y="3368.2" font-size="85" fill="#000" font-family='"Liberation Serif", serif'>0</text>
<text x="148.6" y="3215.7" font-size="85" fill="#000" font-family='"Liberation Serif", serif'>30</text>
<text x="2277.1" y="3215.5" font-size="85" fill="#000" font-family='"Liberation Serif", serif'>3</text>
<text x="148.6" y="3063.1" font-size="85" fill="#000" font-family='"Liberation Serif", serif'>60</text>
<text x="2277.1" y="3063" font-size="85" fill="#000" font-family='"Liberation Serif", serif'>6</text>
<text x="148.6" y="2910.5" font-size="85" fill="#000" font-family='"Liberation Serif", serif'>90</text>
<text x="2277.1" y="2910.4" font-size="85" fill="#000" font-family='"Liberation Serif", serif'>9</text>
<text x="106.1" y="2757.9" font-size="85" fill="#000" font-family='"Liberation Serif", serif'>120</text>
<text x="2280.1" y="2758.2" font-size="85" fill="#000" font-family='"Liberation Serif", serif'>12</text>
<text x="106.1" y="2605.3" font-size="85" fill="#000" font-family='"Liberation Serif", serif'>150</text>
<text x="2280.1" y="2605.1" font-size="85" fill="#000" font-family='"Liberation Serif", serif'>15</text>
<text x="283.4" y="3466.9" font-size="85" fill="#000" font-family='"Liberation Serif", serif'>0</text>
<text x="533" y="3466.9" font-size="85" fill="#000" font-family='"Liberation Serif", serif'>50</text>
<text x="782.1" y="3466.9" font-size="85" fill="#000" font-family='"Liberation Serif", serif'>100</text>
<text x="1053.7" y="3466.9" font-size="85" fill="#000" font-family='"Liberation Serif", serif'>150</text>
<text x="1327.2" y="3466.9" font-size="85" fill="#000" font-family='"Liberation Serif", serif'>200</text>
<text x="1598.8" y="3466.9" font-size="85" fill="#000" font-family='"Liberation Serif", serif'>250</text>
<text x="1870.3" y="3466.9" font-size="85" fill="#000" font-family='"Liberation Serif", serif'>300</text>
<text x="2141.9" y="3466.9" font-size="85" fill="#000" font-family='"Liberation Serif", serif'>350</text>
<text x="138.7" y="95" font-size="86" fill="#000" textLength="235" lengthAdjust="spacingAndGlyphs" font-family='"Liberation Serif", serif'>I (mA)</text>
<text x="1869.4" y="96.9" font-size="86" fill="#000" textLength="50.9" lengthAdjust="spacingAndGlyphs" font-family='"Liberation Serif", serif'>Δ</text>
<text x="1922.1" y="97" font-size="86" fill="#000" textLength="37" lengthAdjust="spacingAndGlyphs" font-family='"Liberation Serif", serif'>ε</text>
<text x="1959.1" y="65.6" font-size="63.6" fill="#000" textLength="41.9" lengthAdjust="spacingAndGlyphs" font-family='"Liberation Serif", serif'>V</text>
<circle cx="2034.4" cy="72.7" r="6.2" fill="#000"/>
<text x="2063.7" y="97" font-size="86" fill="#000" textLength="47.2" lengthAdjust="spacingAndGlyphs" font-family='"Liberation Serif", serif'>1</text>
<text x="2113.3" y="96.6" font-size="86" fill="#000" textLength="44" lengthAdjust="spacingAndGlyphs" font-family='"Liberation Serif", serif'>0</text>
<text x="2159.9" y="65.8" font-size="60" fill="#000" textLength="32.2" lengthAdjust="spacingAndGlyphs" font-family='"Liberation Serif", serif'>3</text>
<text x="2237.1" y="96.5" font-size="85.8" fill="#000" textLength="35.5" lengthAdjust="spacingAndGlyphs" font-family='"Liberation Serif", serif'>(</text>
<text x="2270.1" y="97" font-size="86" fill="#000" textLength="46.4" lengthAdjust="spacingAndGlyphs" font-family='"Liberation Serif", serif'>1</text>
<text x="2315.6" y="96.5" font-size="85.8" fill="#000" textLength="34.3" lengthAdjust="spacingAndGlyphs" font-family='"Liberation Serif", serif'>)</text>
<text x="22.7" y="1194.9" font-size="93.7" fill="#2b2a28" textLength="103.1" lengthAdjust="spacingAndGlyphs" font-family='"Liberation Serif", serif'>(a)</text>
<text x="442.9" y="1207.8" font-size="92.4" fill="#2b2a28" textLength="231.3" lengthAdjust="spacingAndGlyphs" font-family='"Liberation Serif", serif'>Affine</text>
<line x1="704" y1="1177.1" x2="921.4" y2="1177.1" stroke="#2b2a28" stroke-width="8" stroke-linecap="butt"/>
<text x="947.6" y="1207.5" font-size="93.6" fill="#2b2a28" textLength="446" lengthAdjust="spacingAndGlyphs" font-family='"Liberation Serif", serif'>MC method</text>
<line x1="1457.5" y1="1177.4" x2="1534.5" y2="1177.4" stroke="#2b2a28" stroke-width="8" stroke-linecap="butt"/>
<line x1="1596" y1="1177.4" x2="1672.5" y2="1177.4" stroke="#2b2a28" stroke-width="8" stroke-linecap="butt"/>
<text x="2075.3" y="1193.7" font-size="85.3" fill="#000" textLength="287.2" lengthAdjust="spacingAndGlyphs" font-family='"Liberation Serif", serif'>t (hour)</text>
<text x="1969.5" y="279.4" font-size="82.2" fill="#2b2a28" textLength="54.7" lengthAdjust="spacingAndGlyphs" font-family='"Noto Serif CJK SC", "Liberation Serif", serif'>μ</text>
<text x="2020.9" y="300.3" font-size="53.9" fill="#2b2a28" textLength="54.3" lengthAdjust="spacingAndGlyphs" font-family='"Noto Serif CJK SC", "Liberation Serif", serif'>%</text>
<text x="2070.4" y="270.4" font-size="75.2" fill="#2b2a28" textLength="58.8" lengthAdjust="spacingAndGlyphs" font-family='"Liberation Serif", serif'>=</text>
<text x="2125.5" y="275.6" font-size="89.9" fill="#2b2a28" textLength="46.9" lengthAdjust="spacingAndGlyphs" font-family='"Liberation Serif", serif'>0</text>
<text x="583.6" y="256.3" font-size="92.8" fill="#2b2a28" textLength="119.8" lengthAdjust="spacingAndGlyphs" font-family='"Liberation Serif", serif'>I(t)</text>
<polyline points="695.7,288.4 583,288.4" fill="none" stroke="#2b2a28" stroke-width="3.8" stroke-linecap="butt" stroke-linejoin="miter"/>
<line x1="583" y1="288.4" x2="428.8" y2="542.5" stroke="#2b2a28" stroke-width="3.8" stroke-linecap="butt"/>
<polygon points="406,580.1 443.3,538.4 435.1,532.1 425.8,527.8" fill="#2b2a28"/>
<text x="997.1" y="267" font-size="92" fill="#2b2a28" textLength="231.5" lengthAdjust="spacingAndGlyphs" font-family='"Liberation Serif", serif'>Affine</text>
<text x="1242.2" y="281" font-size="96.6" fill="#2b2a28" textLength="69.1" lengthAdjust="spacingAndGlyphs" font-family='"Noto Serif CJK SC", "Liberation Serif", serif'>≡</text>
<text x="1324.3" y="267" font-size="92" fill="#2b2a28" textLength="444.5" lengthAdjust="spacingAndGlyphs" font-family='"Liberation Serif", serif'>MC method</text>
<polyline points="1765,301.7 990,301.7" fill="none" stroke="#2b2a28" stroke-width="3.8" stroke-linecap="butt" stroke-linejoin="miter"/>
<line x1="990" y1="301.7" x2="835.4" y2="556.4" stroke="#2b2a28" stroke-width="3.8" stroke-linecap="butt"/>
<polygon points="812.6,594 849.9,552.3 841.7,546 832.4,541.7" fill="#2b2a28"/>
<defs><clipPath id="clipb"><rect x="0" y="1200" width="600" height="123.2"/></clipPath></defs>
<text x="98" y="1313.6" font-size="86" fill="#000" textLength="235.4" lengthAdjust="spacingAndGlyphs" font-family='"Liberation Serif", serif' clip-path="url(#clipb)">I (mA)</text>
<text x="1875.5" y="1314.9" font-size="86" fill="#000" textLength="50.9" lengthAdjust="spacingAndGlyphs" font-family='"Liberation Serif", serif'>Δ</text>
<text x="1928.2" y="1315" font-size="86" fill="#000" textLength="37" lengthAdjust="spacingAndGlyphs" font-family='"Liberation Serif", serif'>ε</text>
<text x="1965.2" y="1283.6" font-size="63.6" fill="#000" textLength="41.9" lengthAdjust="spacingAndGlyphs" font-family='"Liberation Serif", serif'>V</text>
<circle cx="2040.5" cy="1290.7" r="6.2" fill="#000"/>
<text x="2069.8" y="1315" font-size="86" fill="#000" textLength="47.2" lengthAdjust="spacingAndGlyphs" font-family='"Liberation Serif", serif'>1</text>
<text x="2119.4" y="1314.6" font-size="86" fill="#000" textLength="44" lengthAdjust="spacingAndGlyphs" font-family='"Liberation Serif", serif'>0</text>
<text x="2166" y="1283.8" font-size="60" fill="#000" textLength="32.2" lengthAdjust="spacingAndGlyphs" font-family='"Liberation Serif", serif'>3</text>
<text x="2243.2" y="1314.5" font-size="85.8" fill="#000" textLength="35.5" lengthAdjust="spacingAndGlyphs" font-family='"Liberation Serif", serif'>(</text>
<text x="2276.2" y="1315" font-size="86" fill="#000" textLength="46.4" lengthAdjust="spacingAndGlyphs" font-family='"Liberation Serif", serif'>1</text>
<text x="2321.7" y="1314.5" font-size="85.8" fill="#000" textLength="34.3" lengthAdjust="spacingAndGlyphs" font-family='"Liberation Serif", serif'>)</text>
<text x="25" y="2402" font-size="92.8" fill="#2b2a28" textLength="109.2" lengthAdjust="spacingAndGlyphs" font-family='"Liberation Serif", serif'>(b)</text>
<text x="442.9" y="2401.6" font-size="92.4" fill="#2b2a28" textLength="231.3" lengthAdjust="spacingAndGlyphs" font-family='"Liberation Serif", serif'>Affine</text>
<line x1="704" y1="2370.9" x2="921.4" y2="2370.9" stroke="#2b2a28" stroke-width="8" stroke-linecap="butt"/>
<text x="947.6" y="2401.3" font-size="93.6" fill="#2b2a28" textLength="446" lengthAdjust="spacingAndGlyphs" font-family='"Liberation Serif", serif'>MC method</text>
<line x1="1457.5" y1="2371.2" x2="1534.5" y2="2371.2" stroke="#2b2a28" stroke-width="8" stroke-linecap="butt"/>
<line x1="1596" y1="2371.2" x2="1672.5" y2="2371.2" stroke="#2b2a28" stroke-width="8" stroke-linecap="butt"/>
<text x="2069.9" y="2382.9" font-size="87.5" fill="#000" textLength="288.6" lengthAdjust="spacingAndGlyphs" font-family='"Liberation Serif", serif'>t (hour)</text>
<text x="596.3" y="1483.3" font-size="92.6" fill="#2b2a28" textLength="121.2" lengthAdjust="spacingAndGlyphs" font-family='"Liberation Serif", serif'>I(t)</text>
<polyline points="708.2,1513.9 596.6,1513.9" fill="none" stroke="#2b2a28" stroke-width="3.8" stroke-linecap="butt" stroke-linejoin="miter"/>
<line x1="596.6" y1="1513.9" x2="441" y2="1768.5" stroke="#2b2a28" stroke-width="3.8" stroke-linecap="butt"/>
<polygon points="418,1806 455.4,1764.4 447.3,1758.1 437.9,1753.7" fill="#2b2a28"/>
<text x="947.6" y="1491.5" font-size="91.3" fill="#2b2a28" textLength="232.4" lengthAdjust="spacingAndGlyphs" font-family='"Liberation Serif", serif'>Affine</text>
<polyline points="1180,1523.5 941,1523.5" fill="none" stroke="#2b2a28" stroke-width="3.8" stroke-linecap="butt" stroke-linejoin="miter"/>
<line x1="941" y1="1523.5" x2="843" y2="1671.7" stroke="#2b2a28" stroke-width="3.8" stroke-linecap="butt"/>
<polygon points="818.7,1708.4 857.6,1668.2 849.6,1661.6 840.5,1656.9" fill="#2b2a28"/>
<line x1="941" y1="1523.5" x2="897.1" y2="1838.1" stroke="#2b2a28" stroke-width="3.8" stroke-linecap="butt"/>
<polygon points="891,1881.7 908.8,1828.6 898.8,1826.1 888.5,1825.8" fill="#2b2a28"/>
<text x="1297.3" y="1639.9" font-size="91.3" fill="#2b2a28" textLength="445.8" lengthAdjust="spacingAndGlyphs" font-family='"Liberation Serif", serif'>MC method</text>
<polyline points="1735.7,1671.3 1293.8,1671.3" fill="none" stroke="#2b2a28" stroke-width="3.8" stroke-linecap="butt" stroke-linejoin="miter"/>
<line x1="1293.8" y1="1671.3" x2="1180.4" y2="1795.6" stroke="#2b2a28" stroke-width="3.8" stroke-linecap="butt"/>
<polygon points="1150.7,1828.1 1195.3,1794.4 1188.5,1786.7 1180.2,1780.6" fill="#2b2a28"/>
<line x1="1293.8" y1="1671.3" x2="1217.2" y2="1884.2" stroke="#2b2a28" stroke-width="3.8" stroke-linecap="butt"/>
<polygon points="1202.3,1925.6 1230.6,1877.3 1221.3,1872.8 1211.3,1870.4" fill="#2b2a28"/>
<text x="1947.8" y="1495.8" font-size="82.4" fill="#2b2a28" textLength="56.2" lengthAdjust="spacingAndGlyphs" font-family='"Noto Serif CJK SC", "Liberation Serif", serif'>μ</text>
<text x="2000.4" y="1515.5" font-size="53" fill="#2b2a28" textLength="53.3" lengthAdjust="spacingAndGlyphs" font-family='"Noto Serif CJK SC", "Liberation Serif", serif'>%</text>
<text x="2048.8" y="1485.8" font-size="73.2" fill="#2b2a28" textLength="59.7" lengthAdjust="spacingAndGlyphs" font-family='"Liberation Serif", serif'>=</text>
<text x="2108.6" y="1491.4" font-size="90.6" fill="#2b2a28" textLength="36.5" lengthAdjust="spacingAndGlyphs" font-family='"Liberation Serif", serif'>1</text>
<text x="2150.3" y="1491.2" font-size="89.6" fill="#2b2a28" textLength="46.9" lengthAdjust="spacingAndGlyphs" font-family='"Liberation Serif", serif'>0</text>
<text x="125.5" y="2495.5" font-size="86" fill="#000" textLength="235.4" lengthAdjust="spacingAndGlyphs" font-family='"Liberation Serif", serif'>I (mA)</text>
<text x="1881.2" y="2500.5" font-size="86" fill="#000" textLength="50.9" lengthAdjust="spacingAndGlyphs" font-family='"Liberation Serif", serif'>Δ</text>
<text x="1933.9" y="2500.6" font-size="86" fill="#000" textLength="37" lengthAdjust="spacingAndGlyphs" font-family='"Liberation Serif", serif'>ε</text>
<text x="1970.9" y="2469.2" font-size="63.6" fill="#000" textLength="41.9" lengthAdjust="spacingAndGlyphs" font-family='"Liberation Serif", serif'>V</text>
<circle cx="2046.2" cy="2476.3" r="6.2" fill="#000"/>
<text x="2075.5" y="2500.6" font-size="86" fill="#000" textLength="47.2" lengthAdjust="spacingAndGlyphs" font-family='"Liberation Serif", serif'>1</text>
<text x="2125.1" y="2500.2" font-size="86" fill="#000" textLength="44" lengthAdjust="spacingAndGlyphs" font-family='"Liberation Serif", serif'>0</text>
<text x="2171.7" y="2469.4" font-size="60" fill="#000" textLength="32.2" lengthAdjust="spacingAndGlyphs" font-family='"Liberation Serif", serif'>3</text>
<text x="2248.9" y="2500.1" font-size="85.8" fill="#000" textLength="35.5" lengthAdjust="spacingAndGlyphs" font-family='"Liberation Serif", serif'>(</text>
<text x="2281.9" y="2500.6" font-size="86" fill="#000" textLength="46.4" lengthAdjust="spacingAndGlyphs" font-family='"Liberation Serif", serif'>1</text>
<text x="2327.4" y="2500.1" font-size="85.8" fill="#000" textLength="34.3" lengthAdjust="spacingAndGlyphs" font-family='"Liberation Serif", serif'>)</text>
<text x="444.6" y="2668" font-size="93.7" fill="#2b2a28" textLength="121.1" lengthAdjust="spacingAndGlyphs" font-family='"Liberation Serif", serif'>I(t)</text>
<polyline points="556.4,2697.6 445.4,2697.6" fill="none" stroke="#2b2a28" stroke-width="3.8" stroke-linecap="butt" stroke-linejoin="miter"/>
<line x1="445.4" y1="2697.6" x2="366.7" y2="2925.1" stroke="#2b2a28" stroke-width="3.8" stroke-linecap="butt"/>
<polygon points="352.3,2966.7 380,2918.1 370.6,2913.7 360.6,2911.4" fill="#2b2a28"/>
<text x="964.3" y="2676.2" font-size="93.6" fill="#2b2a28" textLength="230.4" lengthAdjust="spacingAndGlyphs" font-family='"Liberation Serif", serif'>Affine</text>
<polyline points="1196,2707.1 956.9,2707.1" fill="none" stroke="#2b2a28" stroke-width="3.8" stroke-linecap="butt" stroke-linejoin="miter"/>
<line x1="956.9" y1="2707.1" x2="829.9" y2="2767.7" stroke="#2b2a28" stroke-width="3.8" stroke-linecap="butt"/>
<polygon points="790.2,2786.7 844.2,2772.3 840.8,2762.5 835.4,2753.8" fill="#2b2a28"/>
<line x1="956.9" y1="2707.1" x2="793.3" y2="3093.2" stroke="#2b2a28" stroke-width="3.8" stroke-linecap="butt"/>
<polygon points="776.1,3133.7 807,3087.1 798,3082 788.1,3079.1" fill="#2b2a28"/>
<text x="1598.8" y="2831.6" font-size="92.6" fill="#2b2a28" textLength="444.5" lengthAdjust="spacingAndGlyphs" font-family='"Liberation Serif", serif'>MC method</text>
<polyline points="2037.1,2863.5 1595.1,2863.5" fill="none" stroke="#2b2a28" stroke-width="3.8" stroke-linecap="butt" stroke-linejoin="miter"/>
<line x1="1595.1" y1="2863.5" x2="1472.3" y2="3021.4" stroke="#2b2a28" stroke-width="3.8" stroke-linecap="butt"/>
<polygon points="1445.3,3056.1 1487.2,3019 1479.7,3011.8 1471,3006.4" fill="#2b2a28"/>
<line x1="1595.1" y1="2863.5" x2="1495.5" y2="3156.6" stroke="#2b2a28" stroke-width="3.8" stroke-linecap="butt"/>
<polygon points="1481.4,3198.3 1508.8,3149.5 1499.4,3145.2 1489.4,3142.9" fill="#2b2a28"/>
<text x="1939.3" y="2687.7" font-size="81.8" fill="#2b2a28" textLength="55.2" lengthAdjust="spacingAndGlyphs" font-family='"Noto Serif CJK SC", "Liberation Serif", serif'>μ</text>
<text x="1992.1" y="2708.1" font-size="53.1" fill="#2b2a28" textLength="53.3" lengthAdjust="spacingAndGlyphs" font-family='"Noto Serif CJK SC", "Liberation Serif", serif'>%</text>
<text x="2040" y="2677.5" font-size="73.2" fill="#2b2a28" textLength="59.3" lengthAdjust="spacingAndGlyphs" font-family='"Liberation Serif", serif'>=</text>
<text x="2094" y="2683.3" font-size="89.9" fill="#2b2a28" textLength="48.6" lengthAdjust="spacingAndGlyphs" font-family='"Liberation Serif", serif'>2</text>
<text x="2142.1" y="2682.9" font-size="89.6" fill="#2b2a28" textLength="46" lengthAdjust="spacingAndGlyphs" font-family='"Liberation Serif", serif'>0</text>
<text x="21.8" y="3583.1" font-size="92.8" fill="#2b2a28" textLength="104.8" lengthAdjust="spacingAndGlyphs" font-family='"Liberation Serif", serif'>(c)</text>
<text x="442.9" y="3603.8" font-size="92.4" fill="#2b2a28" textLength="231.3" lengthAdjust="spacingAndGlyphs" font-family='"Liberation Serif", serif'>Affine</text>
<line x1="704" y1="3573.1" x2="921.4" y2="3573.1" stroke="#2b2a28" stroke-width="8" stroke-linecap="butt"/>
<text x="947.6" y="3603.5" font-size="93.6" fill="#2b2a28" textLength="446" lengthAdjust="spacingAndGlyphs" font-family='"Liberation Serif", serif'>MC method</text>
<line x1="1457.5" y1="3573.4" x2="1534.5" y2="3573.4" stroke="#2b2a28" stroke-width="8" stroke-linecap="butt"/>
<line x1="1596" y1="3573.4" x2="1672.5" y2="3573.4" stroke="#2b2a28" stroke-width="8" stroke-linecap="butt"/>
<text x="2084.2" y="3570.1" font-size="86.9" fill="#000" textLength="288.7" lengthAdjust="spacingAndGlyphs" font-family='"Liberation Serif", serif'>t (hour)</text>
</svg>
</body></html>
